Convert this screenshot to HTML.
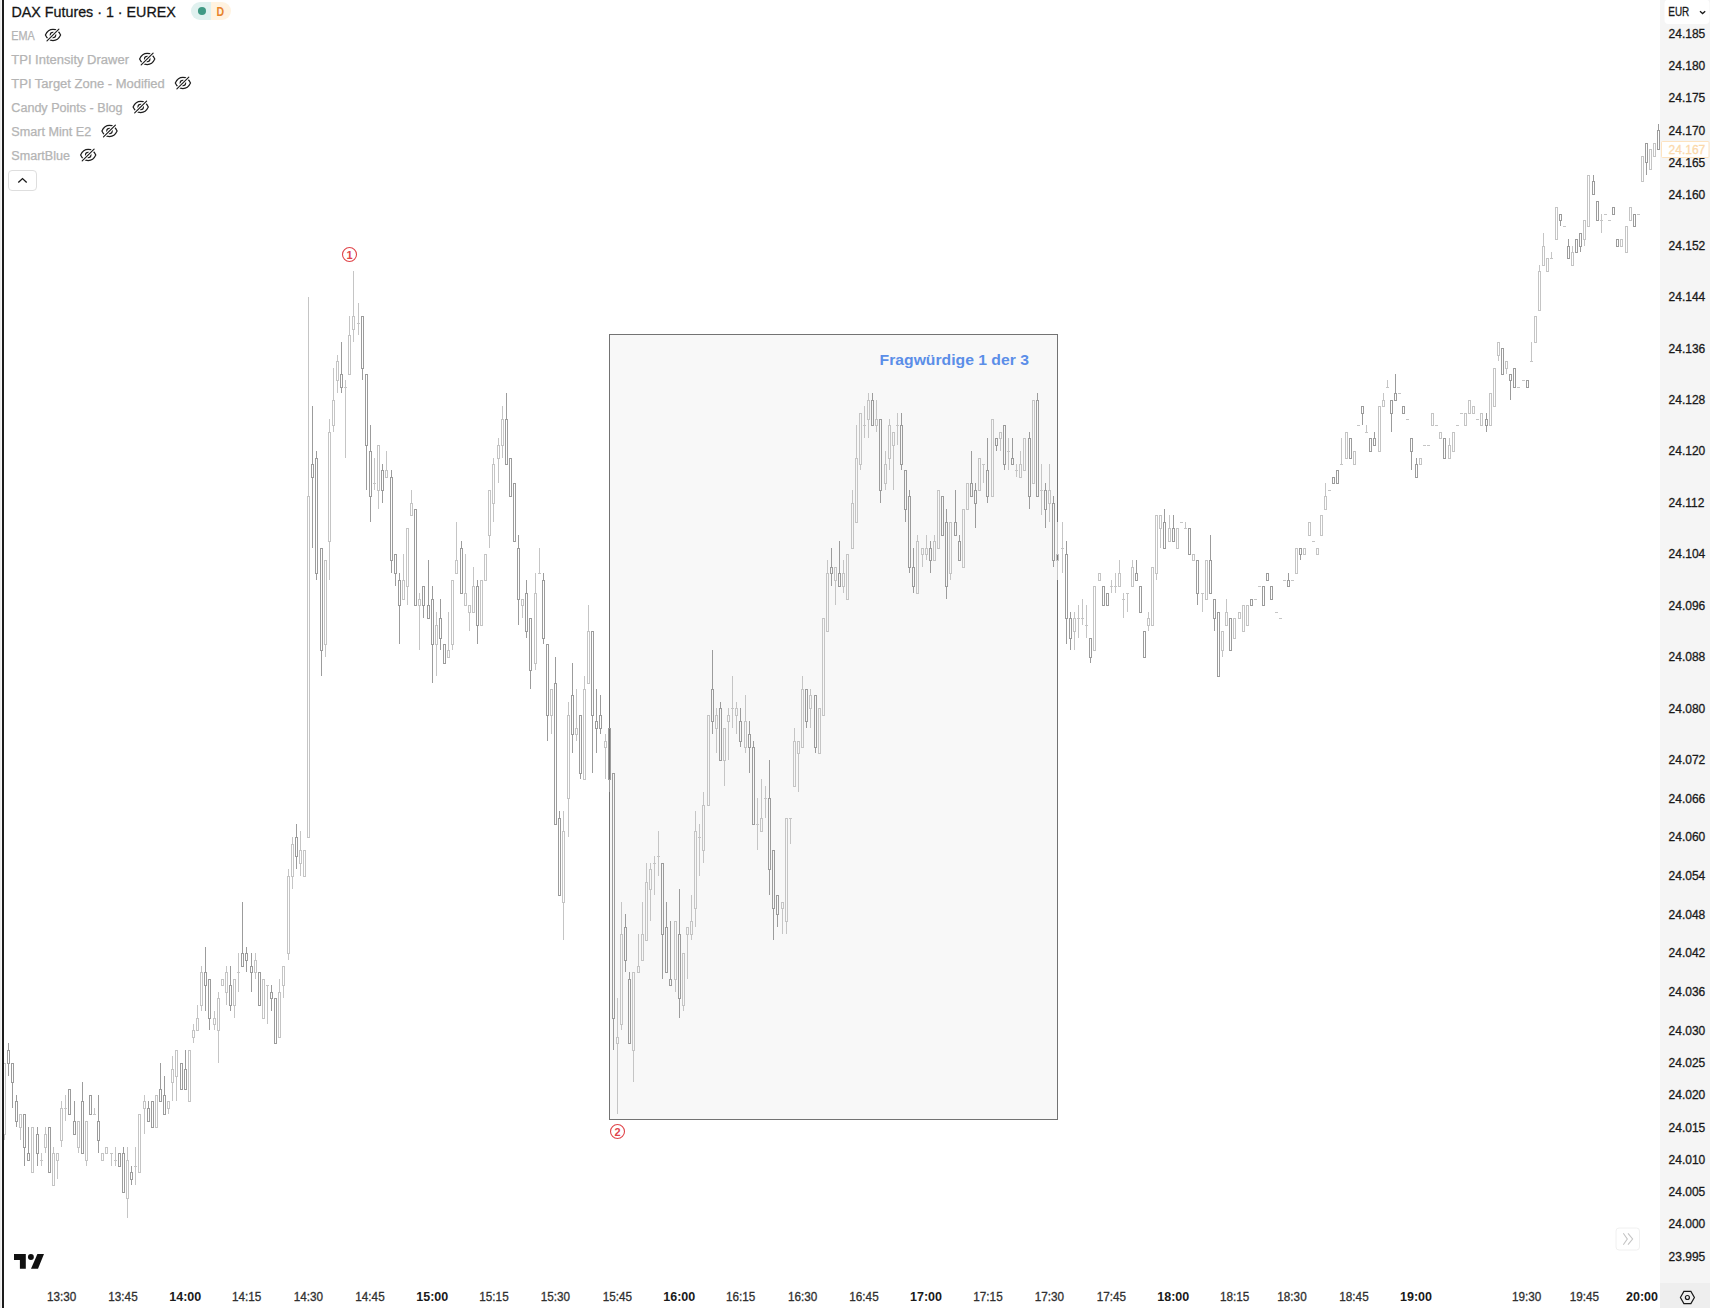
<!DOCTYPE html>
<html lang="de"><head><meta charset="utf-8"><title>DAX Futures · 1 · EUREX</title>
<style>html,body{margin:0;padding:0;background:#fff;overflow:hidden}svg{display:block}text{white-space:pre}</style></head>
<body>
<svg width="1710" height="1308" viewBox="0 0 1710 1308" font-family='"Liberation Sans", sans-serif' shape-rendering="auto">
<rect x="0" y="0" width="1710" height="1308" fill="#fff"/>
<rect x="609.5" y="334.5" width="448" height="785" fill="#f8f8f8" stroke="#737373" stroke-width="1"/>
<g shape-rendering="crispEdges">
<rect x="4.0" y="1135" width="1" height="5" fill="#c5c5c5"/>
<rect x="3.5" y="1063.5" width="2" height="71" fill="none" stroke="#c5c5c5" stroke-width="1"/>
<rect x="8.0" y="1043" width="1" height="7" fill="#9c9c9c"/>
<rect x="8.0" y="1064" width="1" height="12" fill="#9c9c9c"/>
<rect x="7.5" y="1050.5" width="2" height="13" fill="none" stroke="#9c9c9c" stroke-width="1"/>
<rect x="12.0" y="1083" width="1" height="25" fill="#9c9c9c"/>
<rect x="11.5" y="1063.5" width="2" height="19" fill="none" stroke="#9c9c9c" stroke-width="1"/>
<rect x="16.0" y="1095" width="1" height="6" fill="#9c9c9c"/>
<rect x="16.0" y="1122" width="1" height="5" fill="#9c9c9c"/>
<rect x="15.5" y="1101.5" width="2" height="20" fill="none" stroke="#9c9c9c" stroke-width="1"/>
<rect x="20.0" y="1128" width="1" height="12" fill="#c5c5c5"/>
<rect x="19.5" y="1114.5" width="2" height="13" fill="none" stroke="#c5c5c5" stroke-width="1"/>
<rect x="24.0" y="1148" width="1" height="18" fill="#9c9c9c"/>
<rect x="23.5" y="1114.5" width="2" height="33" fill="none" stroke="#9c9c9c" stroke-width="1"/>
<rect x="28.0" y="1127" width="1" height="26" fill="#9c9c9c"/>
<rect x="27.5" y="1153.5" width="2" height="7" fill="none" stroke="#9c9c9c" stroke-width="1"/>
<rect x="31.5" y="1127.5" width="2" height="45" fill="none" stroke="#c5c5c5" stroke-width="1"/>
<rect x="37.0" y="1127" width="1" height="7" fill="#9c9c9c"/>
<rect x="37.0" y="1154" width="1" height="12" fill="#9c9c9c"/>
<rect x="36.5" y="1134.5" width="2" height="19" fill="none" stroke="#9c9c9c" stroke-width="1"/>
<rect x="41.0" y="1153" width="1" height="13" fill="#c5c5c5"/>
<rect x="40.0" y="1160" width="3" height="1" fill="#c5c5c5"/>
<rect x="45.0" y="1127" width="1" height="7" fill="#c5c5c5"/>
<rect x="45.0" y="1148" width="1" height="5" fill="#c5c5c5"/>
<rect x="44.5" y="1134.5" width="2" height="13" fill="none" stroke="#c5c5c5" stroke-width="1"/>
<rect x="48.5" y="1127.5" width="2" height="45" fill="none" stroke="#9c9c9c" stroke-width="1"/>
<rect x="53.0" y="1147" width="1" height="6" fill="#c5c5c5"/>
<rect x="52.5" y="1153.5" width="2" height="32" fill="none" stroke="#c5c5c5" stroke-width="1"/>
<rect x="57.0" y="1161" width="1" height="18" fill="#c5c5c5"/>
<rect x="56.5" y="1153.5" width="2" height="7" fill="none" stroke="#c5c5c5" stroke-width="1"/>
<rect x="61.0" y="1101" width="1" height="7" fill="#c5c5c5"/>
<rect x="61.0" y="1141" width="1" height="6" fill="#c5c5c5"/>
<rect x="60.5" y="1108.5" width="2" height="32" fill="none" stroke="#c5c5c5" stroke-width="1"/>
<rect x="65.0" y="1095" width="1" height="26" fill="#c5c5c5"/>
<rect x="64.0" y="1108" width="3" height="1" fill="#c5c5c5"/>
<rect x="68.5" y="1089.5" width="2" height="25" fill="none" stroke="#9c9c9c" stroke-width="1"/>
<rect x="74.0" y="1101" width="1" height="20" fill="#9c9c9c"/>
<rect x="73.5" y="1121.5" width="2" height="13" fill="none" stroke="#9c9c9c" stroke-width="1"/>
<rect x="78.0" y="1148" width="1" height="5" fill="#c5c5c5"/>
<rect x="77.5" y="1121.5" width="2" height="26" fill="none" stroke="#c5c5c5" stroke-width="1"/>
<rect x="82.0" y="1082" width="1" height="19" fill="#9c9c9c"/>
<rect x="81.5" y="1101.5" width="2" height="52" fill="none" stroke="#9c9c9c" stroke-width="1"/>
<rect x="86.0" y="1161" width="1" height="5" fill="#c5c5c5"/>
<rect x="85.5" y="1121.5" width="2" height="39" fill="none" stroke="#c5c5c5" stroke-width="1"/>
<rect x="89.5" y="1095.5" width="2" height="19" fill="none" stroke="#9c9c9c" stroke-width="1"/>
<rect x="94.0" y="1108" width="1" height="7" fill="#c5c5c5"/>
<rect x="93.0" y="1114" width="3" height="1" fill="#c5c5c5"/>
<rect x="98.0" y="1095" width="1" height="26" fill="#9c9c9c"/>
<rect x="98.0" y="1141" width="1" height="12" fill="#9c9c9c"/>
<rect x="97.5" y="1121.5" width="2" height="19" fill="none" stroke="#9c9c9c" stroke-width="1"/>
<rect x="101.5" y="1153.5" width="2" height="7" fill="none" stroke="#c5c5c5" stroke-width="1"/>
<rect x="105.5" y="1147.5" width="2" height="6" fill="none" stroke="#c5c5c5" stroke-width="1"/>
<rect x="111.0" y="1153" width="1" height="13" fill="#c5c5c5"/>
<rect x="110.0" y="1153" width="3" height="1" fill="#c5c5c5"/>
<rect x="115.0" y="1147" width="1" height="19" fill="#c5c5c5"/>
<rect x="114.0" y="1160" width="3" height="1" fill="#c5c5c5"/>
<rect x="118.5" y="1153.5" width="2" height="13" fill="none" stroke="#9c9c9c" stroke-width="1"/>
<rect x="123.0" y="1147" width="1" height="6" fill="#9c9c9c"/>
<rect x="122.5" y="1153.5" width="2" height="39" fill="none" stroke="#9c9c9c" stroke-width="1"/>
<rect x="127.0" y="1147" width="1" height="13" fill="#c5c5c5"/>
<rect x="127.0" y="1199" width="1" height="19" fill="#c5c5c5"/>
<rect x="126.5" y="1160.5" width="2" height="38" fill="none" stroke="#c5c5c5" stroke-width="1"/>
<rect x="131.0" y="1166" width="1" height="6" fill="#9c9c9c"/>
<rect x="131.0" y="1180" width="1" height="5" fill="#9c9c9c"/>
<rect x="130.5" y="1172.5" width="2" height="7" fill="none" stroke="#9c9c9c" stroke-width="1"/>
<rect x="135.0" y="1147" width="1" height="38" fill="#c5c5c5"/>
<rect x="134.0" y="1166" width="3" height="1" fill="#c5c5c5"/>
<rect x="138.5" y="1114.5" width="2" height="58" fill="none" stroke="#c5c5c5" stroke-width="1"/>
<rect x="144.0" y="1095" width="1" height="6" fill="#c5c5c5"/>
<rect x="144.0" y="1109" width="1" height="25" fill="#c5c5c5"/>
<rect x="143.5" y="1101.5" width="2" height="7" fill="none" stroke="#c5c5c5" stroke-width="1"/>
<rect x="148.0" y="1101" width="1" height="7" fill="#9c9c9c"/>
<rect x="147.5" y="1108.5" width="2" height="13" fill="none" stroke="#9c9c9c" stroke-width="1"/>
<rect x="151.5" y="1101.5" width="2" height="26" fill="none" stroke="#9c9c9c" stroke-width="1"/>
<rect x="155.5" y="1095.5" width="2" height="32" fill="none" stroke="#c5c5c5" stroke-width="1"/>
<rect x="160.0" y="1063" width="1" height="26" fill="#9c9c9c"/>
<rect x="159.5" y="1089.5" width="2" height="12" fill="none" stroke="#9c9c9c" stroke-width="1"/>
<rect x="164.0" y="1076" width="1" height="19" fill="#9c9c9c"/>
<rect x="163.5" y="1095.5" width="2" height="19" fill="none" stroke="#9c9c9c" stroke-width="1"/>
<rect x="168.0" y="1109" width="1" height="5" fill="#c5c5c5"/>
<rect x="167.5" y="1101.5" width="2" height="7" fill="none" stroke="#c5c5c5" stroke-width="1"/>
<rect x="172.0" y="1056" width="1" height="13" fill="#c5c5c5"/>
<rect x="172.0" y="1083" width="1" height="18" fill="#c5c5c5"/>
<rect x="171.5" y="1069.5" width="2" height="13" fill="none" stroke="#c5c5c5" stroke-width="1"/>
<rect x="176.0" y="1077" width="1" height="24" fill="#c5c5c5"/>
<rect x="175.5" y="1050.5" width="2" height="26" fill="none" stroke="#c5c5c5" stroke-width="1"/>
<rect x="180.5" y="1063.5" width="2" height="26" fill="none" stroke="#9c9c9c" stroke-width="1"/>
<rect x="185.0" y="1050" width="1" height="19" fill="#9c9c9c"/>
<rect x="184.5" y="1069.5" width="2" height="20" fill="none" stroke="#9c9c9c" stroke-width="1"/>
<rect x="188.5" y="1050.5" width="2" height="51" fill="none" stroke="#c5c5c5" stroke-width="1"/>
<rect x="193.0" y="1024" width="1" height="6" fill="#c5c5c5"/>
<rect x="193.0" y="1038" width="1" height="5" fill="#c5c5c5"/>
<rect x="192.5" y="1030.5" width="2" height="7" fill="none" stroke="#c5c5c5" stroke-width="1"/>
<rect x="197.0" y="1005" width="1" height="13" fill="#c5c5c5"/>
<rect x="196.5" y="1018.5" width="2" height="12" fill="none" stroke="#c5c5c5" stroke-width="1"/>
<rect x="201.0" y="966" width="1" height="6" fill="#c5c5c5"/>
<rect x="201.0" y="1006" width="1" height="5" fill="#c5c5c5"/>
<rect x="200.5" y="972.5" width="2" height="33" fill="none" stroke="#c5c5c5" stroke-width="1"/>
<rect x="205.0" y="947" width="1" height="25" fill="#9c9c9c"/>
<rect x="205.0" y="986" width="1" height="25" fill="#9c9c9c"/>
<rect x="204.5" y="972.5" width="2" height="13" fill="none" stroke="#9c9c9c" stroke-width="1"/>
<rect x="209.0" y="1019" width="1" height="11" fill="#9c9c9c"/>
<rect x="208.5" y="979.5" width="2" height="39" fill="none" stroke="#9c9c9c" stroke-width="1"/>
<rect x="214.0" y="1011" width="1" height="7" fill="#c5c5c5"/>
<rect x="214.0" y="1025" width="1" height="5" fill="#c5c5c5"/>
<rect x="213.5" y="1018.5" width="2" height="6" fill="none" stroke="#c5c5c5" stroke-width="1"/>
<rect x="218.0" y="992" width="1" height="6" fill="#c5c5c5"/>
<rect x="218.0" y="1031" width="1" height="32" fill="#c5c5c5"/>
<rect x="217.5" y="998.5" width="2" height="32" fill="none" stroke="#c5c5c5" stroke-width="1"/>
<rect x="221.5" y="979.5" width="2" height="6" fill="none" stroke="#c5c5c5" stroke-width="1"/>
<rect x="226.0" y="966" width="1" height="6" fill="#c5c5c5"/>
<rect x="226.0" y="993" width="1" height="12" fill="#c5c5c5"/>
<rect x="225.5" y="972.5" width="2" height="20" fill="none" stroke="#c5c5c5" stroke-width="1"/>
<rect x="230.0" y="966" width="1" height="19" fill="#9c9c9c"/>
<rect x="230.0" y="1006" width="1" height="5" fill="#9c9c9c"/>
<rect x="229.5" y="985.5" width="2" height="20" fill="none" stroke="#9c9c9c" stroke-width="1"/>
<rect x="234.0" y="1006" width="1" height="12" fill="#c5c5c5"/>
<rect x="233.5" y="979.5" width="2" height="26" fill="none" stroke="#c5c5c5" stroke-width="1"/>
<rect x="238.0" y="953" width="1" height="39" fill="#c5c5c5"/>
<rect x="237.0" y="972" width="3" height="1" fill="#c5c5c5"/>
<rect x="242.0" y="902" width="1" height="51" fill="#9c9c9c"/>
<rect x="241.5" y="953.5" width="2" height="13" fill="none" stroke="#9c9c9c" stroke-width="1"/>
<rect x="246.0" y="947" width="1" height="6" fill="#9c9c9c"/>
<rect x="246.0" y="961" width="1" height="11" fill="#9c9c9c"/>
<rect x="245.5" y="953.5" width="2" height="7" fill="none" stroke="#9c9c9c" stroke-width="1"/>
<rect x="251.0" y="953" width="1" height="13" fill="#9c9c9c"/>
<rect x="251.0" y="973" width="1" height="19" fill="#9c9c9c"/>
<rect x="250.5" y="966.5" width="2" height="6" fill="none" stroke="#9c9c9c" stroke-width="1"/>
<rect x="255.0" y="953" width="1" height="7" fill="#c5c5c5"/>
<rect x="255.0" y="973" width="1" height="6" fill="#c5c5c5"/>
<rect x="254.5" y="960.5" width="2" height="12" fill="none" stroke="#c5c5c5" stroke-width="1"/>
<rect x="258.5" y="972.5" width="2" height="33" fill="none" stroke="#9c9c9c" stroke-width="1"/>
<rect x="262.5" y="979.5" width="2" height="39" fill="none" stroke="#c5c5c5" stroke-width="1"/>
<rect x="267.0" y="985" width="1" height="39" fill="#c5c5c5"/>
<rect x="266.0" y="985" width="3" height="1" fill="#c5c5c5"/>
<rect x="271.0" y="985" width="1" height="7" fill="#9c9c9c"/>
<rect x="271.0" y="999" width="1" height="12" fill="#9c9c9c"/>
<rect x="270.5" y="992.5" width="2" height="6" fill="none" stroke="#9c9c9c" stroke-width="1"/>
<rect x="274.5" y="998.5" width="2" height="45" fill="none" stroke="#9c9c9c" stroke-width="1"/>
<rect x="279.0" y="979" width="1" height="13" fill="#c5c5c5"/>
<rect x="278.5" y="992.5" width="2" height="45" fill="none" stroke="#c5c5c5" stroke-width="1"/>
<rect x="283.0" y="986" width="1" height="12" fill="#c5c5c5"/>
<rect x="282.5" y="966.5" width="2" height="19" fill="none" stroke="#c5c5c5" stroke-width="1"/>
<rect x="288.0" y="869" width="1" height="7" fill="#c5c5c5"/>
<rect x="288.0" y="954" width="1" height="6" fill="#c5c5c5"/>
<rect x="287.5" y="876.5" width="2" height="77" fill="none" stroke="#c5c5c5" stroke-width="1"/>
<rect x="292.0" y="837" width="1" height="7" fill="#c5c5c5"/>
<rect x="292.0" y="877" width="1" height="12" fill="#c5c5c5"/>
<rect x="291.5" y="844.5" width="2" height="32" fill="none" stroke="#c5c5c5" stroke-width="1"/>
<rect x="296.0" y="824" width="1" height="13" fill="#9c9c9c"/>
<rect x="296.0" y="857" width="1" height="12" fill="#9c9c9c"/>
<rect x="295.5" y="837.5" width="2" height="19" fill="none" stroke="#9c9c9c" stroke-width="1"/>
<rect x="300.0" y="831" width="1" height="19" fill="#c5c5c5"/>
<rect x="300.0" y="864" width="1" height="12" fill="#c5c5c5"/>
<rect x="299.5" y="850.5" width="2" height="13" fill="none" stroke="#c5c5c5" stroke-width="1"/>
<rect x="303.5" y="850.5" width="2" height="26" fill="none" stroke="#c5c5c5" stroke-width="1"/>
<rect x="308.0" y="297" width="1" height="199" fill="#c5c5c5"/>
<rect x="307.5" y="496.5" width="2" height="341" fill="none" stroke="#c5c5c5" stroke-width="1"/>
<rect x="312.0" y="406" width="1" height="58" fill="#9c9c9c"/>
<rect x="312.0" y="478" width="1" height="70" fill="#9c9c9c"/>
<rect x="311.5" y="464.5" width="2" height="13" fill="none" stroke="#9c9c9c" stroke-width="1"/>
<rect x="316.0" y="451" width="1" height="7" fill="#9c9c9c"/>
<rect x="316.0" y="574" width="1" height="6" fill="#9c9c9c"/>
<rect x="315.5" y="458.5" width="2" height="115" fill="none" stroke="#9c9c9c" stroke-width="1"/>
<rect x="321.0" y="651" width="1" height="25" fill="#9c9c9c"/>
<rect x="320.5" y="548.5" width="2" height="102" fill="none" stroke="#9c9c9c" stroke-width="1"/>
<rect x="325.0" y="645" width="1" height="12" fill="#c5c5c5"/>
<rect x="324.5" y="560.5" width="2" height="84" fill="none" stroke="#c5c5c5" stroke-width="1"/>
<rect x="329.0" y="419" width="1" height="13" fill="#c5c5c5"/>
<rect x="329.0" y="542" width="1" height="38" fill="#c5c5c5"/>
<rect x="328.5" y="432.5" width="2" height="109" fill="none" stroke="#c5c5c5" stroke-width="1"/>
<rect x="333.0" y="368" width="1" height="32" fill="#c5c5c5"/>
<rect x="333.0" y="426" width="1" height="6" fill="#c5c5c5"/>
<rect x="332.5" y="400.5" width="2" height="25" fill="none" stroke="#c5c5c5" stroke-width="1"/>
<rect x="337.0" y="355" width="1" height="6" fill="#c5c5c5"/>
<rect x="337.0" y="381" width="1" height="12" fill="#c5c5c5"/>
<rect x="336.5" y="361.5" width="2" height="19" fill="none" stroke="#c5c5c5" stroke-width="1"/>
<rect x="341.0" y="342" width="1" height="32" fill="#9c9c9c"/>
<rect x="341.0" y="388" width="1" height="5" fill="#9c9c9c"/>
<rect x="340.5" y="374.5" width="2" height="13" fill="none" stroke="#9c9c9c" stroke-width="1"/>
<rect x="345.0" y="380" width="1" height="78" fill="#c5c5c5"/>
<rect x="344.0" y="387" width="3" height="1" fill="#c5c5c5"/>
<rect x="349.0" y="316" width="1" height="19" fill="#c5c5c5"/>
<rect x="348.5" y="335.5" width="2" height="39" fill="none" stroke="#c5c5c5" stroke-width="1"/>
<rect x="353.0" y="271" width="1" height="45" fill="#c5c5c5"/>
<rect x="353.0" y="330" width="1" height="12" fill="#c5c5c5"/>
<rect x="352.5" y="316.5" width="2" height="13" fill="none" stroke="#c5c5c5" stroke-width="1"/>
<rect x="358.0" y="303" width="1" height="32" fill="#c5c5c5"/>
<rect x="357.0" y="323" width="3" height="1" fill="#c5c5c5"/>
<rect x="362.0" y="369" width="1" height="11" fill="#9c9c9c"/>
<rect x="361.5" y="316.5" width="2" height="52" fill="none" stroke="#9c9c9c" stroke-width="1"/>
<rect x="366.0" y="446" width="1" height="44" fill="#9c9c9c"/>
<rect x="365.5" y="374.5" width="2" height="71" fill="none" stroke="#9c9c9c" stroke-width="1"/>
<rect x="370.0" y="425" width="1" height="26" fill="#9c9c9c"/>
<rect x="370.0" y="497" width="1" height="25" fill="#9c9c9c"/>
<rect x="369.5" y="451.5" width="2" height="45" fill="none" stroke="#9c9c9c" stroke-width="1"/>
<rect x="374.0" y="458" width="1" height="32" fill="#c5c5c5"/>
<rect x="373.0" y="483" width="3" height="1" fill="#c5c5c5"/>
<rect x="378.0" y="491" width="1" height="18" fill="#c5c5c5"/>
<rect x="377.5" y="445.5" width="2" height="45" fill="none" stroke="#c5c5c5" stroke-width="1"/>
<rect x="382.0" y="464" width="1" height="6" fill="#9c9c9c"/>
<rect x="382.0" y="491" width="1" height="12" fill="#9c9c9c"/>
<rect x="381.5" y="470.5" width="2" height="20" fill="none" stroke="#9c9c9c" stroke-width="1"/>
<rect x="386.0" y="451" width="1" height="19" fill="#c5c5c5"/>
<rect x="385.5" y="470.5" width="2" height="7" fill="none" stroke="#c5c5c5" stroke-width="1"/>
<rect x="391.0" y="470" width="1" height="7" fill="#9c9c9c"/>
<rect x="391.0" y="561" width="1" height="12" fill="#9c9c9c"/>
<rect x="390.5" y="477.5" width="2" height="83" fill="none" stroke="#9c9c9c" stroke-width="1"/>
<rect x="395.0" y="574" width="1" height="12" fill="#9c9c9c"/>
<rect x="394.5" y="554.5" width="2" height="19" fill="none" stroke="#9c9c9c" stroke-width="1"/>
<rect x="399.0" y="573" width="1" height="7" fill="#9c9c9c"/>
<rect x="399.0" y="606" width="1" height="38" fill="#9c9c9c"/>
<rect x="398.5" y="580.5" width="2" height="25" fill="none" stroke="#9c9c9c" stroke-width="1"/>
<rect x="403.0" y="554" width="1" height="26" fill="#c5c5c5"/>
<rect x="402.5" y="580.5" width="2" height="19" fill="none" stroke="#c5c5c5" stroke-width="1"/>
<rect x="407.0" y="587" width="1" height="18" fill="#c5c5c5"/>
<rect x="406.5" y="528.5" width="2" height="58" fill="none" stroke="#c5c5c5" stroke-width="1"/>
<rect x="411.0" y="490" width="1" height="13" fill="#c5c5c5"/>
<rect x="410.5" y="503.5" width="2" height="12" fill="none" stroke="#c5c5c5" stroke-width="1"/>
<rect x="414.5" y="509.5" width="2" height="96" fill="none" stroke="#9c9c9c" stroke-width="1"/>
<rect x="419.0" y="593" width="1" height="6" fill="#c5c5c5"/>
<rect x="419.0" y="606" width="1" height="44" fill="#c5c5c5"/>
<rect x="418.5" y="599.5" width="2" height="6" fill="none" stroke="#c5c5c5" stroke-width="1"/>
<rect x="423.0" y="606" width="1" height="12" fill="#9c9c9c"/>
<rect x="422.5" y="586.5" width="2" height="19" fill="none" stroke="#9c9c9c" stroke-width="1"/>
<rect x="428.0" y="560" width="1" height="45" fill="#9c9c9c"/>
<rect x="427.5" y="605.5" width="2" height="13" fill="none" stroke="#9c9c9c" stroke-width="1"/>
<rect x="432.0" y="586" width="1" height="13" fill="#9c9c9c"/>
<rect x="432.0" y="645" width="1" height="38" fill="#9c9c9c"/>
<rect x="431.5" y="599.5" width="2" height="45" fill="none" stroke="#9c9c9c" stroke-width="1"/>
<rect x="436.0" y="612" width="1" height="13" fill="#c5c5c5"/>
<rect x="436.0" y="645" width="1" height="31" fill="#c5c5c5"/>
<rect x="435.5" y="625.5" width="2" height="19" fill="none" stroke="#c5c5c5" stroke-width="1"/>
<rect x="440.0" y="599" width="1" height="19" fill="#9c9c9c"/>
<rect x="440.0" y="639" width="1" height="11" fill="#9c9c9c"/>
<rect x="439.5" y="618.5" width="2" height="20" fill="none" stroke="#9c9c9c" stroke-width="1"/>
<rect x="443.5" y="644.5" width="2" height="19" fill="none" stroke="#9c9c9c" stroke-width="1"/>
<rect x="448.0" y="612" width="1" height="38" fill="#c5c5c5"/>
<rect x="447.5" y="650.5" width="2" height="7" fill="none" stroke="#c5c5c5" stroke-width="1"/>
<rect x="452.0" y="645" width="1" height="5" fill="#c5c5c5"/>
<rect x="451.5" y="580.5" width="2" height="64" fill="none" stroke="#c5c5c5" stroke-width="1"/>
<rect x="456.0" y="522" width="1" height="38" fill="#c5c5c5"/>
<rect x="455.5" y="560.5" width="2" height="13" fill="none" stroke="#c5c5c5" stroke-width="1"/>
<rect x="461.0" y="541" width="1" height="7" fill="#9c9c9c"/>
<rect x="460.5" y="548.5" width="2" height="45" fill="none" stroke="#9c9c9c" stroke-width="1"/>
<rect x="465.0" y="554" width="1" height="39" fill="#c5c5c5"/>
<rect x="464.5" y="593.5" width="2" height="12" fill="none" stroke="#c5c5c5" stroke-width="1"/>
<rect x="469.0" y="613" width="1" height="18" fill="#c5c5c5"/>
<rect x="468.5" y="605.5" width="2" height="7" fill="none" stroke="#c5c5c5" stroke-width="1"/>
<rect x="473.0" y="567" width="1" height="19" fill="#c5c5c5"/>
<rect x="472.5" y="586.5" width="2" height="26" fill="none" stroke="#c5c5c5" stroke-width="1"/>
<rect x="477.0" y="580" width="1" height="6" fill="#9c9c9c"/>
<rect x="477.0" y="626" width="1" height="18" fill="#9c9c9c"/>
<rect x="476.5" y="586.5" width="2" height="39" fill="none" stroke="#9c9c9c" stroke-width="1"/>
<rect x="480.5" y="580.5" width="2" height="45" fill="none" stroke="#c5c5c5" stroke-width="1"/>
<rect x="484.5" y="554.5" width="2" height="26" fill="none" stroke="#c5c5c5" stroke-width="1"/>
<rect x="489.0" y="536" width="1" height="12" fill="#c5c5c5"/>
<rect x="488.5" y="490.5" width="2" height="45" fill="none" stroke="#c5c5c5" stroke-width="1"/>
<rect x="493.0" y="458" width="1" height="6" fill="#c5c5c5"/>
<rect x="493.0" y="504" width="1" height="18" fill="#c5c5c5"/>
<rect x="492.5" y="464.5" width="2" height="39" fill="none" stroke="#c5c5c5" stroke-width="1"/>
<rect x="498.0" y="438" width="1" height="7" fill="#c5c5c5"/>
<rect x="498.0" y="459" width="1" height="24" fill="#c5c5c5"/>
<rect x="497.5" y="445.5" width="2" height="13" fill="none" stroke="#c5c5c5" stroke-width="1"/>
<rect x="502.0" y="406" width="1" height="13" fill="#c5c5c5"/>
<rect x="502.0" y="446" width="1" height="12" fill="#c5c5c5"/>
<rect x="501.5" y="419.5" width="2" height="26" fill="none" stroke="#c5c5c5" stroke-width="1"/>
<rect x="506.0" y="393" width="1" height="26" fill="#9c9c9c"/>
<rect x="505.5" y="419.5" width="2" height="45" fill="none" stroke="#9c9c9c" stroke-width="1"/>
<rect x="509.5" y="458.5" width="2" height="38" fill="none" stroke="#9c9c9c" stroke-width="1"/>
<rect x="513.5" y="483.5" width="2" height="58" fill="none" stroke="#9c9c9c" stroke-width="1"/>
<rect x="518.0" y="535" width="1" height="13" fill="#9c9c9c"/>
<rect x="518.0" y="600" width="1" height="25" fill="#9c9c9c"/>
<rect x="517.5" y="548.5" width="2" height="51" fill="none" stroke="#9c9c9c" stroke-width="1"/>
<rect x="522.0" y="606" width="1" height="12" fill="#c5c5c5"/>
<rect x="521.5" y="599.5" width="2" height="6" fill="none" stroke="#c5c5c5" stroke-width="1"/>
<rect x="526.0" y="580" width="1" height="13" fill="#9c9c9c"/>
<rect x="526.0" y="632" width="1" height="6" fill="#9c9c9c"/>
<rect x="525.5" y="593.5" width="2" height="38" fill="none" stroke="#9c9c9c" stroke-width="1"/>
<rect x="530.0" y="671" width="1" height="18" fill="#9c9c9c"/>
<rect x="529.5" y="618.5" width="2" height="52" fill="none" stroke="#9c9c9c" stroke-width="1"/>
<rect x="535.0" y="573" width="1" height="20" fill="#c5c5c5"/>
<rect x="535.0" y="664" width="1" height="6" fill="#c5c5c5"/>
<rect x="534.5" y="593.5" width="2" height="70" fill="none" stroke="#c5c5c5" stroke-width="1"/>
<rect x="539.0" y="548" width="1" height="26" fill="#c5c5c5"/>
<rect x="538.0" y="573" width="3" height="1" fill="#c5c5c5"/>
<rect x="543.0" y="573" width="1" height="7" fill="#9c9c9c"/>
<rect x="543.0" y="639" width="1" height="5" fill="#9c9c9c"/>
<rect x="542.5" y="580.5" width="2" height="58" fill="none" stroke="#9c9c9c" stroke-width="1"/>
<rect x="547.0" y="716" width="1" height="25" fill="#9c9c9c"/>
<rect x="546.5" y="644.5" width="2" height="71" fill="none" stroke="#9c9c9c" stroke-width="1"/>
<rect x="551.0" y="716" width="1" height="18" fill="#c5c5c5"/>
<rect x="550.5" y="689.5" width="2" height="26" fill="none" stroke="#c5c5c5" stroke-width="1"/>
<rect x="555.0" y="657" width="1" height="26" fill="#9c9c9c"/>
<rect x="554.5" y="683.5" width="2" height="141" fill="none" stroke="#9c9c9c" stroke-width="1"/>
<rect x="559.0" y="811" width="1" height="7" fill="#9c9c9c"/>
<rect x="558.5" y="818.5" width="2" height="77" fill="none" stroke="#9c9c9c" stroke-width="1"/>
<rect x="563.0" y="811" width="1" height="20" fill="#c5c5c5"/>
<rect x="563.0" y="903" width="1" height="37" fill="#c5c5c5"/>
<rect x="562.5" y="831.5" width="2" height="71" fill="none" stroke="#c5c5c5" stroke-width="1"/>
<rect x="568.0" y="702" width="1" height="13" fill="#c5c5c5"/>
<rect x="568.0" y="799" width="1" height="38" fill="#c5c5c5"/>
<rect x="567.5" y="715.5" width="2" height="83" fill="none" stroke="#c5c5c5" stroke-width="1"/>
<rect x="572.0" y="663" width="1" height="32" fill="#9c9c9c"/>
<rect x="572.0" y="735" width="1" height="18" fill="#9c9c9c"/>
<rect x="571.5" y="695.5" width="2" height="39" fill="none" stroke="#9c9c9c" stroke-width="1"/>
<rect x="576.0" y="689" width="1" height="39" fill="#c5c5c5"/>
<rect x="576.0" y="735" width="1" height="6" fill="#c5c5c5"/>
<rect x="575.5" y="728.5" width="2" height="6" fill="none" stroke="#c5c5c5" stroke-width="1"/>
<rect x="580.0" y="774" width="1" height="5" fill="#9c9c9c"/>
<rect x="579.5" y="715.5" width="2" height="58" fill="none" stroke="#9c9c9c" stroke-width="1"/>
<rect x="584.0" y="676" width="1" height="13" fill="#c5c5c5"/>
<rect x="583.5" y="689.5" width="2" height="90" fill="none" stroke="#c5c5c5" stroke-width="1"/>
<rect x="588.0" y="605" width="1" height="26" fill="#c5c5c5"/>
<rect x="587.5" y="631.5" width="2" height="52" fill="none" stroke="#c5c5c5" stroke-width="1"/>
<rect x="592.0" y="716" width="1" height="57" fill="#9c9c9c"/>
<rect x="591.5" y="631.5" width="2" height="84" fill="none" stroke="#9c9c9c" stroke-width="1"/>
<rect x="596.0" y="689" width="1" height="32" fill="#9c9c9c"/>
<rect x="596.0" y="729" width="1" height="24" fill="#9c9c9c"/>
<rect x="595.5" y="721.5" width="2" height="7" fill="none" stroke="#9c9c9c" stroke-width="1"/>
<rect x="600.0" y="695" width="1" height="20" fill="#9c9c9c"/>
<rect x="600.0" y="729" width="1" height="5" fill="#9c9c9c"/>
<rect x="599.5" y="715.5" width="2" height="13" fill="none" stroke="#9c9c9c" stroke-width="1"/>
<rect x="605.0" y="734" width="1" height="7" fill="#c5c5c5"/>
<rect x="605.0" y="748" width="1" height="31" fill="#c5c5c5"/>
<rect x="604.5" y="741.5" width="2" height="6" fill="none" stroke="#c5c5c5" stroke-width="1"/>
<rect x="609.0" y="780" width="1" height="12" fill="#9c9c9c"/>
<rect x="608.5" y="728.5" width="2" height="51" fill="none" stroke="#9c9c9c" stroke-width="1"/>
<rect x="613.0" y="1019" width="1" height="31" fill="#9c9c9c"/>
<rect x="612.5" y="773.5" width="2" height="245" fill="none" stroke="#9c9c9c" stroke-width="1"/>
<rect x="617.0" y="998" width="1" height="39" fill="#c5c5c5"/>
<rect x="617.0" y="1044" width="1" height="70" fill="#c5c5c5"/>
<rect x="616.5" y="1037.5" width="2" height="6" fill="none" stroke="#c5c5c5" stroke-width="1"/>
<rect x="621.0" y="902" width="1" height="32" fill="#c5c5c5"/>
<rect x="621.0" y="1025" width="1" height="5" fill="#c5c5c5"/>
<rect x="620.5" y="934.5" width="2" height="90" fill="none" stroke="#c5c5c5" stroke-width="1"/>
<rect x="625.0" y="914" width="1" height="13" fill="#9c9c9c"/>
<rect x="625.0" y="961" width="1" height="11" fill="#9c9c9c"/>
<rect x="624.5" y="927.5" width="2" height="33" fill="none" stroke="#9c9c9c" stroke-width="1"/>
<rect x="629.0" y="972" width="1" height="7" fill="#9c9c9c"/>
<rect x="628.5" y="979.5" width="2" height="64" fill="none" stroke="#9c9c9c" stroke-width="1"/>
<rect x="633.0" y="1051" width="1" height="31" fill="#c5c5c5"/>
<rect x="632.5" y="972.5" width="2" height="78" fill="none" stroke="#c5c5c5" stroke-width="1"/>
<rect x="638.0" y="934" width="1" height="32" fill="#c5c5c5"/>
<rect x="637.5" y="966.5" width="2" height="6" fill="none" stroke="#c5c5c5" stroke-width="1"/>
<rect x="642.0" y="902" width="1" height="32" fill="#c5c5c5"/>
<rect x="641.5" y="934.5" width="2" height="26" fill="none" stroke="#c5c5c5" stroke-width="1"/>
<rect x="646.0" y="863" width="1" height="19" fill="#c5c5c5"/>
<rect x="645.5" y="882.5" width="2" height="58" fill="none" stroke="#c5c5c5" stroke-width="1"/>
<rect x="650.0" y="863" width="1" height="6" fill="#c5c5c5"/>
<rect x="650.0" y="890" width="1" height="31" fill="#c5c5c5"/>
<rect x="649.5" y="869.5" width="2" height="20" fill="none" stroke="#c5c5c5" stroke-width="1"/>
<rect x="654.0" y="856" width="1" height="39" fill="#c5c5c5"/>
<rect x="653.0" y="863" width="3" height="1" fill="#c5c5c5"/>
<rect x="658.0" y="831" width="1" height="45" fill="#c5c5c5"/>
<rect x="657.0" y="856" width="3" height="1" fill="#c5c5c5"/>
<rect x="662.0" y="935" width="1" height="44" fill="#9c9c9c"/>
<rect x="661.5" y="863.5" width="2" height="71" fill="none" stroke="#9c9c9c" stroke-width="1"/>
<rect x="666.0" y="902" width="1" height="25" fill="#9c9c9c"/>
<rect x="665.5" y="927.5" width="2" height="45" fill="none" stroke="#9c9c9c" stroke-width="1"/>
<rect x="670.0" y="921" width="1" height="58" fill="#9c9c9c"/>
<rect x="669.5" y="979.5" width="2" height="6" fill="none" stroke="#9c9c9c" stroke-width="1"/>
<rect x="675.0" y="980" width="1" height="12" fill="#c5c5c5"/>
<rect x="674.5" y="921.5" width="2" height="58" fill="none" stroke="#c5c5c5" stroke-width="1"/>
<rect x="679.0" y="889" width="1" height="45" fill="#9c9c9c"/>
<rect x="679.0" y="999" width="1" height="19" fill="#9c9c9c"/>
<rect x="678.5" y="934.5" width="2" height="64" fill="none" stroke="#9c9c9c" stroke-width="1"/>
<rect x="683.0" y="1006" width="1" height="5" fill="#c5c5c5"/>
<rect x="682.5" y="953.5" width="2" height="52" fill="none" stroke="#c5c5c5" stroke-width="1"/>
<rect x="687.0" y="935" width="1" height="44" fill="#c5c5c5"/>
<rect x="686.5" y="927.5" width="2" height="7" fill="none" stroke="#c5c5c5" stroke-width="1"/>
<rect x="691.0" y="895" width="1" height="26" fill="#c5c5c5"/>
<rect x="691.0" y="935" width="1" height="5" fill="#c5c5c5"/>
<rect x="690.5" y="921.5" width="2" height="13" fill="none" stroke="#c5c5c5" stroke-width="1"/>
<rect x="695.0" y="811" width="1" height="20" fill="#c5c5c5"/>
<rect x="695.0" y="909" width="1" height="18" fill="#c5c5c5"/>
<rect x="694.5" y="831.5" width="2" height="77" fill="none" stroke="#c5c5c5" stroke-width="1"/>
<rect x="699.0" y="824" width="1" height="52" fill="#c5c5c5"/>
<rect x="698.0" y="837" width="3" height="1" fill="#c5c5c5"/>
<rect x="703.0" y="792" width="1" height="13" fill="#c5c5c5"/>
<rect x="703.0" y="851" width="1" height="12" fill="#c5c5c5"/>
<rect x="702.5" y="805.5" width="2" height="45" fill="none" stroke="#c5c5c5" stroke-width="1"/>
<rect x="707.5" y="715.5" width="2" height="90" fill="none" stroke="#c5c5c5" stroke-width="1"/>
<rect x="712.0" y="650" width="1" height="39" fill="#9c9c9c"/>
<rect x="712.0" y="722" width="1" height="12" fill="#9c9c9c"/>
<rect x="711.5" y="689.5" width="2" height="32" fill="none" stroke="#9c9c9c" stroke-width="1"/>
<rect x="716.0" y="708" width="1" height="7" fill="#c5c5c5"/>
<rect x="716.0" y="729" width="1" height="24" fill="#c5c5c5"/>
<rect x="715.5" y="715.5" width="2" height="13" fill="none" stroke="#c5c5c5" stroke-width="1"/>
<rect x="720.0" y="702" width="1" height="6" fill="#9c9c9c"/>
<rect x="719.5" y="708.5" width="2" height="52" fill="none" stroke="#9c9c9c" stroke-width="1"/>
<rect x="724.0" y="761" width="1" height="25" fill="#c5c5c5"/>
<rect x="723.5" y="728.5" width="2" height="32" fill="none" stroke="#c5c5c5" stroke-width="1"/>
<rect x="728.0" y="708" width="1" height="7" fill="#c5c5c5"/>
<rect x="728.0" y="722" width="1" height="38" fill="#c5c5c5"/>
<rect x="727.5" y="715.5" width="2" height="6" fill="none" stroke="#c5c5c5" stroke-width="1"/>
<rect x="732.0" y="676" width="1" height="52" fill="#c5c5c5"/>
<rect x="731.0" y="708" width="3" height="1" fill="#c5c5c5"/>
<rect x="736.0" y="702" width="1" height="6" fill="#c5c5c5"/>
<rect x="736.0" y="716" width="1" height="18" fill="#c5c5c5"/>
<rect x="735.5" y="708.5" width="2" height="7" fill="none" stroke="#c5c5c5" stroke-width="1"/>
<rect x="740.0" y="708" width="1" height="13" fill="#9c9c9c"/>
<rect x="740.0" y="742" width="1" height="5" fill="#9c9c9c"/>
<rect x="739.5" y="721.5" width="2" height="20" fill="none" stroke="#9c9c9c" stroke-width="1"/>
<rect x="745.0" y="695" width="1" height="26" fill="#c5c5c5"/>
<rect x="745.0" y="748" width="1" height="5" fill="#c5c5c5"/>
<rect x="744.5" y="721.5" width="2" height="26" fill="none" stroke="#c5c5c5" stroke-width="1"/>
<rect x="749.0" y="721" width="1" height="13" fill="#9c9c9c"/>
<rect x="749.0" y="748" width="1" height="25" fill="#9c9c9c"/>
<rect x="748.5" y="734.5" width="2" height="13" fill="none" stroke="#9c9c9c" stroke-width="1"/>
<rect x="753.0" y="741" width="1" height="6" fill="#9c9c9c"/>
<rect x="752.5" y="747.5" width="2" height="77" fill="none" stroke="#9c9c9c" stroke-width="1"/>
<rect x="757.0" y="798" width="1" height="52" fill="#c5c5c5"/>
<rect x="756.0" y="824" width="3" height="1" fill="#c5c5c5"/>
<rect x="761.0" y="779" width="1" height="39" fill="#c5c5c5"/>
<rect x="760.5" y="818.5" width="2" height="13" fill="none" stroke="#c5c5c5" stroke-width="1"/>
<rect x="765.0" y="786" width="1" height="32" fill="#c5c5c5"/>
<rect x="764.0" y="798" width="3" height="1" fill="#c5c5c5"/>
<rect x="769.0" y="760" width="1" height="38" fill="#9c9c9c"/>
<rect x="769.0" y="870" width="1" height="25" fill="#9c9c9c"/>
<rect x="768.5" y="798.5" width="2" height="71" fill="none" stroke="#9c9c9c" stroke-width="1"/>
<rect x="773.0" y="909" width="1" height="31" fill="#9c9c9c"/>
<rect x="772.5" y="850.5" width="2" height="58" fill="none" stroke="#9c9c9c" stroke-width="1"/>
<rect x="777.0" y="915" width="1" height="12" fill="#9c9c9c"/>
<rect x="776.5" y="895.5" width="2" height="19" fill="none" stroke="#9c9c9c" stroke-width="1"/>
<rect x="782.0" y="909" width="1" height="25" fill="#c5c5c5"/>
<rect x="781.5" y="902.5" width="2" height="6" fill="none" stroke="#c5c5c5" stroke-width="1"/>
<rect x="786.0" y="922" width="1" height="12" fill="#c5c5c5"/>
<rect x="785.5" y="818.5" width="2" height="103" fill="none" stroke="#c5c5c5" stroke-width="1"/>
<rect x="790.0" y="818" width="1" height="26" fill="#c5c5c5"/>
<rect x="789.0" y="818" width="3" height="1" fill="#c5c5c5"/>
<rect x="794.0" y="728" width="1" height="13" fill="#c5c5c5"/>
<rect x="793.5" y="741.5" width="2" height="45" fill="none" stroke="#c5c5c5" stroke-width="1"/>
<rect x="798.0" y="754" width="1" height="38" fill="#c5c5c5"/>
<rect x="797.5" y="741.5" width="2" height="12" fill="none" stroke="#c5c5c5" stroke-width="1"/>
<rect x="802.0" y="676" width="1" height="13" fill="#c5c5c5"/>
<rect x="801.5" y="689.5" width="2" height="58" fill="none" stroke="#c5c5c5" stroke-width="1"/>
<rect x="806.0" y="722" width="1" height="6" fill="#9c9c9c"/>
<rect x="805.5" y="689.5" width="2" height="32" fill="none" stroke="#9c9c9c" stroke-width="1"/>
<rect x="810.0" y="689" width="1" height="6" fill="#c5c5c5"/>
<rect x="810.0" y="709" width="1" height="19" fill="#c5c5c5"/>
<rect x="809.5" y="695.5" width="2" height="13" fill="none" stroke="#c5c5c5" stroke-width="1"/>
<rect x="815.0" y="748" width="1" height="5" fill="#9c9c9c"/>
<rect x="814.5" y="695.5" width="2" height="52" fill="none" stroke="#9c9c9c" stroke-width="1"/>
<rect x="818.5" y="708.5" width="2" height="45" fill="none" stroke="#c5c5c5" stroke-width="1"/>
<rect x="822.5" y="618.5" width="2" height="97" fill="none" stroke="#c5c5c5" stroke-width="1"/>
<rect x="827.0" y="560" width="1" height="13" fill="#c5c5c5"/>
<rect x="826.5" y="573.5" width="2" height="58" fill="none" stroke="#c5c5c5" stroke-width="1"/>
<rect x="831.0" y="548" width="1" height="19" fill="#9c9c9c"/>
<rect x="831.0" y="574" width="1" height="12" fill="#9c9c9c"/>
<rect x="830.5" y="567.5" width="2" height="6" fill="none" stroke="#9c9c9c" stroke-width="1"/>
<rect x="835.0" y="581" width="1" height="24" fill="#c5c5c5"/>
<rect x="834.5" y="567.5" width="2" height="13" fill="none" stroke="#c5c5c5" stroke-width="1"/>
<rect x="839.0" y="541" width="1" height="32" fill="#9c9c9c"/>
<rect x="838.5" y="573.5" width="2" height="13" fill="none" stroke="#9c9c9c" stroke-width="1"/>
<rect x="843.0" y="560" width="1" height="13" fill="#c5c5c5"/>
<rect x="843.0" y="587" width="1" height="6" fill="#c5c5c5"/>
<rect x="842.5" y="573.5" width="2" height="13" fill="none" stroke="#c5c5c5" stroke-width="1"/>
<rect x="846.5" y="554.5" width="2" height="45" fill="none" stroke="#c5c5c5" stroke-width="1"/>
<rect x="852.0" y="490" width="1" height="13" fill="#c5c5c5"/>
<rect x="851.5" y="503.5" width="2" height="45" fill="none" stroke="#c5c5c5" stroke-width="1"/>
<rect x="856.0" y="425" width="1" height="33" fill="#c5c5c5"/>
<rect x="855.5" y="458.5" width="2" height="64" fill="none" stroke="#c5c5c5" stroke-width="1"/>
<rect x="860.0" y="465" width="1" height="5" fill="#c5c5c5"/>
<rect x="859.5" y="413.5" width="2" height="51" fill="none" stroke="#c5c5c5" stroke-width="1"/>
<rect x="864.0" y="406" width="1" height="32" fill="#c5c5c5"/>
<rect x="863.0" y="425" width="3" height="1" fill="#c5c5c5"/>
<rect x="868.0" y="393" width="1" height="7" fill="#c5c5c5"/>
<rect x="868.0" y="420" width="1" height="18" fill="#c5c5c5"/>
<rect x="867.5" y="400.5" width="2" height="19" fill="none" stroke="#c5c5c5" stroke-width="1"/>
<rect x="872.0" y="393" width="1" height="7" fill="#9c9c9c"/>
<rect x="871.5" y="400.5" width="2" height="25" fill="none" stroke="#9c9c9c" stroke-width="1"/>
<rect x="876.0" y="400" width="1" height="19" fill="#c5c5c5"/>
<rect x="876.0" y="426" width="1" height="6" fill="#c5c5c5"/>
<rect x="875.5" y="419.5" width="2" height="6" fill="none" stroke="#c5c5c5" stroke-width="1"/>
<rect x="880.0" y="491" width="1" height="12" fill="#9c9c9c"/>
<rect x="879.5" y="419.5" width="2" height="71" fill="none" stroke="#9c9c9c" stroke-width="1"/>
<rect x="885.0" y="451" width="1" height="13" fill="#c5c5c5"/>
<rect x="885.0" y="484" width="1" height="6" fill="#c5c5c5"/>
<rect x="884.5" y="464.5" width="2" height="19" fill="none" stroke="#c5c5c5" stroke-width="1"/>
<rect x="889.0" y="419" width="1" height="6" fill="#c5c5c5"/>
<rect x="889.0" y="459" width="1" height="11" fill="#c5c5c5"/>
<rect x="888.5" y="425.5" width="2" height="33" fill="none" stroke="#c5c5c5" stroke-width="1"/>
<rect x="893.0" y="446" width="1" height="44" fill="#c5c5c5"/>
<rect x="892.5" y="432.5" width="2" height="13" fill="none" stroke="#c5c5c5" stroke-width="1"/>
<rect x="897.0" y="413" width="1" height="32" fill="#c5c5c5"/>
<rect x="896.0" y="425" width="3" height="1" fill="#c5c5c5"/>
<rect x="901.0" y="413" width="1" height="12" fill="#9c9c9c"/>
<rect x="901.0" y="465" width="1" height="5" fill="#9c9c9c"/>
<rect x="900.5" y="425.5" width="2" height="39" fill="none" stroke="#9c9c9c" stroke-width="1"/>
<rect x="905.0" y="510" width="1" height="12" fill="#9c9c9c"/>
<rect x="904.5" y="470.5" width="2" height="39" fill="none" stroke="#9c9c9c" stroke-width="1"/>
<rect x="909.0" y="490" width="1" height="6" fill="#9c9c9c"/>
<rect x="909.0" y="568" width="1" height="5" fill="#9c9c9c"/>
<rect x="908.5" y="496.5" width="2" height="71" fill="none" stroke="#9c9c9c" stroke-width="1"/>
<rect x="913.0" y="548" width="1" height="19" fill="#9c9c9c"/>
<rect x="913.0" y="587" width="1" height="6" fill="#9c9c9c"/>
<rect x="912.5" y="567.5" width="2" height="19" fill="none" stroke="#9c9c9c" stroke-width="1"/>
<rect x="917.0" y="535" width="1" height="6" fill="#c5c5c5"/>
<rect x="916.5" y="541.5" width="2" height="52" fill="none" stroke="#c5c5c5" stroke-width="1"/>
<rect x="922.0" y="555" width="1" height="12" fill="#c5c5c5"/>
<rect x="921.5" y="548.5" width="2" height="6" fill="none" stroke="#c5c5c5" stroke-width="1"/>
<rect x="926.0" y="535" width="1" height="13" fill="#c5c5c5"/>
<rect x="926.0" y="555" width="1" height="5" fill="#c5c5c5"/>
<rect x="925.5" y="548.5" width="2" height="6" fill="none" stroke="#c5c5c5" stroke-width="1"/>
<rect x="930.0" y="541" width="1" height="7" fill="#9c9c9c"/>
<rect x="930.0" y="561" width="1" height="12" fill="#9c9c9c"/>
<rect x="929.5" y="548.5" width="2" height="12" fill="none" stroke="#9c9c9c" stroke-width="1"/>
<rect x="934.0" y="535" width="1" height="6" fill="#c5c5c5"/>
<rect x="933.5" y="541.5" width="2" height="19" fill="none" stroke="#c5c5c5" stroke-width="1"/>
<rect x="937.5" y="490.5" width="2" height="58" fill="none" stroke="#c5c5c5" stroke-width="1"/>
<rect x="941.5" y="496.5" width="2" height="39" fill="none" stroke="#9c9c9c" stroke-width="1"/>
<rect x="946.0" y="509" width="1" height="13" fill="#9c9c9c"/>
<rect x="946.0" y="587" width="1" height="12" fill="#9c9c9c"/>
<rect x="945.5" y="522.5" width="2" height="64" fill="none" stroke="#9c9c9c" stroke-width="1"/>
<rect x="950.0" y="574" width="1" height="6" fill="#c5c5c5"/>
<rect x="949.5" y="522.5" width="2" height="51" fill="none" stroke="#c5c5c5" stroke-width="1"/>
<rect x="955.0" y="490" width="1" height="32" fill="#9c9c9c"/>
<rect x="954.5" y="522.5" width="2" height="13" fill="none" stroke="#9c9c9c" stroke-width="1"/>
<rect x="959.0" y="535" width="1" height="6" fill="#9c9c9c"/>
<rect x="958.5" y="541.5" width="2" height="19" fill="none" stroke="#9c9c9c" stroke-width="1"/>
<rect x="962.5" y="509.5" width="2" height="58" fill="none" stroke="#c5c5c5" stroke-width="1"/>
<rect x="966.5" y="483.5" width="2" height="26" fill="none" stroke="#c5c5c5" stroke-width="1"/>
<rect x="971.0" y="451" width="1" height="32" fill="#9c9c9c"/>
<rect x="970.5" y="483.5" width="2" height="13" fill="none" stroke="#9c9c9c" stroke-width="1"/>
<rect x="975.0" y="483" width="1" height="7" fill="#9c9c9c"/>
<rect x="975.0" y="504" width="1" height="24" fill="#9c9c9c"/>
<rect x="974.5" y="490.5" width="2" height="13" fill="none" stroke="#9c9c9c" stroke-width="1"/>
<rect x="978.5" y="458.5" width="2" height="32" fill="none" stroke="#c5c5c5" stroke-width="1"/>
<rect x="983.0" y="464" width="1" height="19" fill="#c5c5c5"/>
<rect x="982.0" y="464" width="3" height="1" fill="#c5c5c5"/>
<rect x="987.0" y="438" width="1" height="32" fill="#9c9c9c"/>
<rect x="987.0" y="497" width="1" height="6" fill="#9c9c9c"/>
<rect x="986.5" y="470.5" width="2" height="26" fill="none" stroke="#9c9c9c" stroke-width="1"/>
<rect x="991.5" y="419.5" width="2" height="77" fill="none" stroke="#c5c5c5" stroke-width="1"/>
<rect x="996.0" y="446" width="1" height="5" fill="#9c9c9c"/>
<rect x="995.5" y="438.5" width="2" height="7" fill="none" stroke="#9c9c9c" stroke-width="1"/>
<rect x="1000.0" y="439" width="1" height="12" fill="#c5c5c5"/>
<rect x="999.5" y="432.5" width="2" height="6" fill="none" stroke="#c5c5c5" stroke-width="1"/>
<rect x="1004.0" y="465" width="1" height="5" fill="#9c9c9c"/>
<rect x="1003.5" y="425.5" width="2" height="39" fill="none" stroke="#9c9c9c" stroke-width="1"/>
<rect x="1008.0" y="438" width="1" height="32" fill="#c5c5c5"/>
<rect x="1007.0" y="451" width="3" height="1" fill="#c5c5c5"/>
<rect x="1012.0" y="438" width="1" height="20" fill="#9c9c9c"/>
<rect x="1011.5" y="458.5" width="2" height="6" fill="none" stroke="#9c9c9c" stroke-width="1"/>
<rect x="1016.0" y="464" width="1" height="13" fill="#c5c5c5"/>
<rect x="1015.0" y="470" width="3" height="1" fill="#c5c5c5"/>
<rect x="1020.0" y="451" width="1" height="13" fill="#c5c5c5"/>
<rect x="1019.5" y="464.5" width="2" height="13" fill="none" stroke="#c5c5c5" stroke-width="1"/>
<rect x="1023.5" y="438.5" width="2" height="32" fill="none" stroke="#c5c5c5" stroke-width="1"/>
<rect x="1029.0" y="432" width="1" height="6" fill="#9c9c9c"/>
<rect x="1029.0" y="497" width="1" height="12" fill="#9c9c9c"/>
<rect x="1028.5" y="438.5" width="2" height="58" fill="none" stroke="#9c9c9c" stroke-width="1"/>
<rect x="1032.5" y="400.5" width="2" height="83" fill="none" stroke="#c5c5c5" stroke-width="1"/>
<rect x="1037.0" y="393" width="1" height="7" fill="#9c9c9c"/>
<rect x="1036.5" y="400.5" width="2" height="96" fill="none" stroke="#9c9c9c" stroke-width="1"/>
<rect x="1041.0" y="464" width="1" height="51" fill="#c5c5c5"/>
<rect x="1040.0" y="490" width="3" height="1" fill="#c5c5c5"/>
<rect x="1045.0" y="483" width="1" height="7" fill="#9c9c9c"/>
<rect x="1045.0" y="510" width="1" height="18" fill="#9c9c9c"/>
<rect x="1044.5" y="490.5" width="2" height="19" fill="none" stroke="#9c9c9c" stroke-width="1"/>
<rect x="1049.0" y="464" width="1" height="26" fill="#c5c5c5"/>
<rect x="1049.0" y="504" width="1" height="18" fill="#c5c5c5"/>
<rect x="1048.5" y="490.5" width="2" height="13" fill="none" stroke="#c5c5c5" stroke-width="1"/>
<rect x="1053.0" y="496" width="1" height="7" fill="#9c9c9c"/>
<rect x="1053.0" y="561" width="1" height="6" fill="#9c9c9c"/>
<rect x="1052.5" y="503.5" width="2" height="57" fill="none" stroke="#9c9c9c" stroke-width="1"/>
<rect x="1057.0" y="522" width="1" height="32" fill="#c5c5c5"/>
<rect x="1057.0" y="561" width="1" height="19" fill="#c5c5c5"/>
<rect x="1056.5" y="554.5" width="2" height="6" fill="none" stroke="#c5c5c5" stroke-width="1"/>
<rect x="1062.0" y="522" width="1" height="51" fill="#c5c5c5"/>
<rect x="1061.0" y="548" width="3" height="1" fill="#c5c5c5"/>
<rect x="1066.0" y="541" width="1" height="13" fill="#9c9c9c"/>
<rect x="1066.0" y="619" width="1" height="25" fill="#9c9c9c"/>
<rect x="1065.5" y="554.5" width="2" height="64" fill="none" stroke="#9c9c9c" stroke-width="1"/>
<rect x="1070.0" y="612" width="1" height="6" fill="#9c9c9c"/>
<rect x="1070.0" y="639" width="1" height="11" fill="#9c9c9c"/>
<rect x="1069.5" y="618.5" width="2" height="20" fill="none" stroke="#9c9c9c" stroke-width="1"/>
<rect x="1074.0" y="612" width="1" height="6" fill="#c5c5c5"/>
<rect x="1074.0" y="632" width="1" height="18" fill="#c5c5c5"/>
<rect x="1073.5" y="618.5" width="2" height="13" fill="none" stroke="#c5c5c5" stroke-width="1"/>
<rect x="1078.0" y="605" width="1" height="33" fill="#c5c5c5"/>
<rect x="1077.0" y="618" width="3" height="1" fill="#c5c5c5"/>
<rect x="1082.0" y="599" width="1" height="26" fill="#c5c5c5"/>
<rect x="1081.0" y="618" width="3" height="1" fill="#c5c5c5"/>
<rect x="1086.0" y="605" width="1" height="33" fill="#c5c5c5"/>
<rect x="1085.0" y="625" width="3" height="1" fill="#c5c5c5"/>
<rect x="1090.0" y="658" width="1" height="5" fill="#9c9c9c"/>
<rect x="1089.5" y="638.5" width="2" height="19" fill="none" stroke="#9c9c9c" stroke-width="1"/>
<rect x="1093.5" y="586.5" width="2" height="64" fill="none" stroke="#c5c5c5" stroke-width="1"/>
<rect x="1098.5" y="573.5" width="2" height="7" fill="none" stroke="#c5c5c5" stroke-width="1"/>
<rect x="1102.5" y="586.5" width="2" height="19" fill="none" stroke="#9c9c9c" stroke-width="1"/>
<rect x="1106.5" y="593.5" width="2" height="12" fill="none" stroke="#9c9c9c" stroke-width="1"/>
<rect x="1111.0" y="580" width="1" height="13" fill="#c5c5c5"/>
<rect x="1110.0" y="586" width="3" height="1" fill="#c5c5c5"/>
<rect x="1115.0" y="573" width="1" height="20" fill="#c5c5c5"/>
<rect x="1114.0" y="586" width="3" height="1" fill="#c5c5c5"/>
<rect x="1119.0" y="560" width="1" height="13" fill="#c5c5c5"/>
<rect x="1118.5" y="573.5" width="2" height="13" fill="none" stroke="#c5c5c5" stroke-width="1"/>
<rect x="1123.0" y="593" width="1" height="25" fill="#c5c5c5"/>
<rect x="1122.0" y="599" width="3" height="1" fill="#c5c5c5"/>
<rect x="1127.0" y="593" width="1" height="19" fill="#c5c5c5"/>
<rect x="1126.0" y="593" width="3" height="1" fill="#c5c5c5"/>
<rect x="1132.0" y="560" width="1" height="7" fill="#c5c5c5"/>
<rect x="1131.5" y="567.5" width="2" height="19" fill="none" stroke="#c5c5c5" stroke-width="1"/>
<rect x="1136.0" y="560" width="1" height="13" fill="#9c9c9c"/>
<rect x="1135.5" y="573.5" width="2" height="7" fill="none" stroke="#9c9c9c" stroke-width="1"/>
<rect x="1139.5" y="586.5" width="2" height="26" fill="none" stroke="#9c9c9c" stroke-width="1"/>
<rect x="1143.5" y="631.5" width="2" height="26" fill="none" stroke="#9c9c9c" stroke-width="1"/>
<rect x="1148.0" y="612" width="1" height="6" fill="#c5c5c5"/>
<rect x="1148.0" y="626" width="1" height="5" fill="#c5c5c5"/>
<rect x="1147.5" y="618.5" width="2" height="7" fill="none" stroke="#c5c5c5" stroke-width="1"/>
<rect x="1151.5" y="567.5" width="2" height="58" fill="none" stroke="#c5c5c5" stroke-width="1"/>
<rect x="1156.0" y="574" width="1" height="6" fill="#c5c5c5"/>
<rect x="1155.5" y="515.5" width="2" height="58" fill="none" stroke="#c5c5c5" stroke-width="1"/>
<rect x="1160.0" y="529" width="1" height="19" fill="#c5c5c5"/>
<rect x="1159.5" y="515.5" width="2" height="13" fill="none" stroke="#c5c5c5" stroke-width="1"/>
<rect x="1164.0" y="509" width="1" height="13" fill="#9c9c9c"/>
<rect x="1163.5" y="522.5" width="2" height="26" fill="none" stroke="#9c9c9c" stroke-width="1"/>
<rect x="1169.0" y="515" width="1" height="13" fill="#c5c5c5"/>
<rect x="1168.5" y="528.5" width="2" height="13" fill="none" stroke="#c5c5c5" stroke-width="1"/>
<rect x="1173.0" y="515" width="1" height="13" fill="#9c9c9c"/>
<rect x="1172.5" y="528.5" width="2" height="13" fill="none" stroke="#9c9c9c" stroke-width="1"/>
<rect x="1176.5" y="528.5" width="2" height="20" fill="none" stroke="#c5c5c5" stroke-width="1"/>
<rect x="1180.0" y="522" width="3" height="1" fill="#c5c5c5"/>
<rect x="1185.0" y="522" width="1" height="7" fill="#c5c5c5"/>
<rect x="1184.0" y="528" width="3" height="1" fill="#c5c5c5"/>
<rect x="1188.5" y="528.5" width="2" height="26" fill="none" stroke="#9c9c9c" stroke-width="1"/>
<rect x="1192.5" y="554.5" width="2" height="6" fill="none" stroke="#c5c5c5" stroke-width="1"/>
<rect x="1197.0" y="594" width="1" height="11" fill="#9c9c9c"/>
<rect x="1196.5" y="560.5" width="2" height="33" fill="none" stroke="#9c9c9c" stroke-width="1"/>
<rect x="1202.0" y="593" width="1" height="19" fill="#c5c5c5"/>
<rect x="1201.0" y="593" width="3" height="1" fill="#c5c5c5"/>
<rect x="1205.5" y="560.5" width="2" height="39" fill="none" stroke="#c5c5c5" stroke-width="1"/>
<rect x="1210.0" y="535" width="1" height="25" fill="#9c9c9c"/>
<rect x="1209.5" y="560.5" width="2" height="33" fill="none" stroke="#9c9c9c" stroke-width="1"/>
<rect x="1214.0" y="619" width="1" height="12" fill="#9c9c9c"/>
<rect x="1213.5" y="599.5" width="2" height="19" fill="none" stroke="#9c9c9c" stroke-width="1"/>
<rect x="1217.5" y="612.5" width="2" height="64" fill="none" stroke="#9c9c9c" stroke-width="1"/>
<rect x="1222.0" y="651" width="1" height="6" fill="#c5c5c5"/>
<rect x="1221.5" y="631.5" width="2" height="19" fill="none" stroke="#c5c5c5" stroke-width="1"/>
<rect x="1226.0" y="599" width="1" height="13" fill="#c5c5c5"/>
<rect x="1225.5" y="612.5" width="2" height="13" fill="none" stroke="#c5c5c5" stroke-width="1"/>
<rect x="1229.5" y="618.5" width="2" height="32" fill="none" stroke="#9c9c9c" stroke-width="1"/>
<rect x="1233.5" y="618.5" width="2" height="20" fill="none" stroke="#c5c5c5" stroke-width="1"/>
<rect x="1238.5" y="612.5" width="2" height="6" fill="none" stroke="#c5c5c5" stroke-width="1"/>
<rect x="1242.5" y="605.5" width="2" height="26" fill="none" stroke="#c5c5c5" stroke-width="1"/>
<rect x="1246.5" y="605.5" width="2" height="20" fill="none" stroke="#c5c5c5" stroke-width="1"/>
<rect x="1250.5" y="599.5" width="2" height="6" fill="none" stroke="#9c9c9c" stroke-width="1"/>
<rect x="1254.0" y="599" width="3" height="1" fill="#c5c5c5"/>
<rect x="1258.0" y="586" width="3" height="1" fill="#c5c5c5"/>
<rect x="1262.5" y="586.5" width="2" height="19" fill="none" stroke="#9c9c9c" stroke-width="1"/>
<rect x="1266.5" y="573.5" width="2" height="7" fill="none" stroke="#9c9c9c" stroke-width="1"/>
<rect x="1270.5" y="586.5" width="2" height="13" fill="none" stroke="#9c9c9c" stroke-width="1"/>
<rect x="1275.0" y="612" width="3" height="1" fill="#c5c5c5"/>
<rect x="1279.0" y="618" width="3" height="1" fill="#c5c5c5"/>
<rect x="1283.0" y="580" width="3" height="1" fill="#c5c5c5"/>
<rect x="1288.0" y="573" width="1" height="7" fill="#9c9c9c"/>
<rect x="1287.5" y="580.5" width="2" height="6" fill="none" stroke="#9c9c9c" stroke-width="1"/>
<rect x="1291.0" y="580" width="3" height="1" fill="#c5c5c5"/>
<rect x="1295.5" y="548.5" width="2" height="25" fill="none" stroke="#c5c5c5" stroke-width="1"/>
<rect x="1300.0" y="555" width="1" height="5" fill="#9c9c9c"/>
<rect x="1299.5" y="548.5" width="2" height="6" fill="none" stroke="#9c9c9c" stroke-width="1"/>
<rect x="1303.5" y="548.5" width="2" height="6" fill="none" stroke="#c5c5c5" stroke-width="1"/>
<rect x="1308.5" y="522.5" width="2" height="13" fill="none" stroke="#c5c5c5" stroke-width="1"/>
<rect x="1312.0" y="541" width="3" height="1" fill="#c5c5c5"/>
<rect x="1316.5" y="548.5" width="2" height="6" fill="none" stroke="#c5c5c5" stroke-width="1"/>
<rect x="1320.5" y="515.5" width="2" height="20" fill="none" stroke="#c5c5c5" stroke-width="1"/>
<rect x="1325.0" y="483" width="1" height="13" fill="#c5c5c5"/>
<rect x="1324.5" y="496.5" width="2" height="13" fill="none" stroke="#c5c5c5" stroke-width="1"/>
<rect x="1328.0" y="490" width="3" height="1" fill="#c5c5c5"/>
<rect x="1332.5" y="477.5" width="2" height="6" fill="none" stroke="#9c9c9c" stroke-width="1"/>
<rect x="1336.5" y="470.5" width="2" height="13" fill="none" stroke="#9c9c9c" stroke-width="1"/>
<rect x="1341.0" y="438" width="1" height="27" fill="#c5c5c5"/>
<rect x="1340.0" y="464" width="3" height="1" fill="#c5c5c5"/>
<rect x="1345.5" y="432.5" width="2" height="26" fill="none" stroke="#c5c5c5" stroke-width="1"/>
<rect x="1349.5" y="438.5" width="2" height="20" fill="none" stroke="#9c9c9c" stroke-width="1"/>
<rect x="1353.5" y="451.5" width="2" height="13" fill="none" stroke="#c5c5c5" stroke-width="1"/>
<rect x="1357.0" y="425" width="3" height="1" fill="#c5c5c5"/>
<rect x="1362.0" y="414" width="1" height="11" fill="#9c9c9c"/>
<rect x="1361.5" y="406.5" width="2" height="7" fill="none" stroke="#9c9c9c" stroke-width="1"/>
<rect x="1366.0" y="425" width="1" height="8" fill="#c5c5c5"/>
<rect x="1365.0" y="432" width="3" height="1" fill="#c5c5c5"/>
<rect x="1369.5" y="438.5" width="2" height="13" fill="none" stroke="#9c9c9c" stroke-width="1"/>
<rect x="1374.0" y="432" width="1" height="6" fill="#9c9c9c"/>
<rect x="1373.5" y="438.5" width="2" height="7" fill="none" stroke="#9c9c9c" stroke-width="1"/>
<rect x="1378.5" y="406.5" width="2" height="45" fill="none" stroke="#c5c5c5" stroke-width="1"/>
<rect x="1383.0" y="393" width="1" height="7" fill="#c5c5c5"/>
<rect x="1382.5" y="400.5" width="2" height="6" fill="none" stroke="#c5c5c5" stroke-width="1"/>
<rect x="1387.0" y="380" width="1" height="8" fill="#c5c5c5"/>
<rect x="1386.0" y="387" width="3" height="1" fill="#c5c5c5"/>
<rect x="1391.0" y="414" width="1" height="18" fill="#9c9c9c"/>
<rect x="1390.5" y="400.5" width="2" height="13" fill="none" stroke="#9c9c9c" stroke-width="1"/>
<rect x="1395.0" y="374" width="1" height="19" fill="#9c9c9c"/>
<rect x="1394.5" y="393.5" width="2" height="7" fill="none" stroke="#9c9c9c" stroke-width="1"/>
<rect x="1398.0" y="393" width="3" height="1" fill="#c5c5c5"/>
<rect x="1402.5" y="406.5" width="2" height="7" fill="none" stroke="#9c9c9c" stroke-width="1"/>
<rect x="1406.0" y="419" width="3" height="1" fill="#c5c5c5"/>
<rect x="1411.0" y="452" width="1" height="18" fill="#9c9c9c"/>
<rect x="1410.5" y="438.5" width="2" height="13" fill="none" stroke="#9c9c9c" stroke-width="1"/>
<rect x="1416.0" y="458" width="1" height="6" fill="#9c9c9c"/>
<rect x="1415.5" y="464.5" width="2" height="13" fill="none" stroke="#9c9c9c" stroke-width="1"/>
<rect x="1419.5" y="458.5" width="2" height="6" fill="none" stroke="#c5c5c5" stroke-width="1"/>
<rect x="1423.0" y="445" width="3" height="1" fill="#c5c5c5"/>
<rect x="1427.0" y="445" width="3" height="1" fill="#c5c5c5"/>
<rect x="1431.5" y="413.5" width="2" height="12" fill="none" stroke="#c5c5c5" stroke-width="1"/>
<rect x="1435.0" y="425" width="3" height="1" fill="#c5c5c5"/>
<rect x="1439.5" y="432.5" width="2" height="6" fill="none" stroke="#c5c5c5" stroke-width="1"/>
<rect x="1443.5" y="438.5" width="2" height="20" fill="none" stroke="#9c9c9c" stroke-width="1"/>
<rect x="1449.0" y="438" width="1" height="7" fill="#c5c5c5"/>
<rect x="1448.5" y="445.5" width="2" height="13" fill="none" stroke="#c5c5c5" stroke-width="1"/>
<rect x="1452.5" y="432.5" width="2" height="19" fill="none" stroke="#c5c5c5" stroke-width="1"/>
<rect x="1456.0" y="425" width="3" height="1" fill="#c5c5c5"/>
<rect x="1460.0" y="413" width="3" height="1" fill="#c5c5c5"/>
<rect x="1464.5" y="413.5" width="2" height="12" fill="none" stroke="#c5c5c5" stroke-width="1"/>
<rect x="1468.5" y="400.5" width="2" height="13" fill="none" stroke="#c5c5c5" stroke-width="1"/>
<rect x="1472.5" y="406.5" width="2" height="7" fill="none" stroke="#c5c5c5" stroke-width="1"/>
<rect x="1476.0" y="419" width="3" height="1" fill="#c5c5c5"/>
<rect x="1480.5" y="413.5" width="2" height="12" fill="none" stroke="#c5c5c5" stroke-width="1"/>
<rect x="1486.0" y="413" width="1" height="6" fill="#9c9c9c"/>
<rect x="1486.0" y="426" width="1" height="6" fill="#9c9c9c"/>
<rect x="1485.5" y="419.5" width="2" height="6" fill="none" stroke="#9c9c9c" stroke-width="1"/>
<rect x="1489.5" y="393.5" width="2" height="32" fill="none" stroke="#c5c5c5" stroke-width="1"/>
<rect x="1493.5" y="368.5" width="2" height="38" fill="none" stroke="#c5c5c5" stroke-width="1"/>
<rect x="1498.0" y="356" width="1" height="5" fill="#c5c5c5"/>
<rect x="1497.5" y="342.5" width="2" height="13" fill="none" stroke="#c5c5c5" stroke-width="1"/>
<rect x="1501.5" y="348.5" width="2" height="26" fill="none" stroke="#9c9c9c" stroke-width="1"/>
<rect x="1506.0" y="369" width="1" height="5" fill="#c5c5c5"/>
<rect x="1505.5" y="361.5" width="2" height="7" fill="none" stroke="#c5c5c5" stroke-width="1"/>
<rect x="1510.0" y="381" width="1" height="19" fill="#9c9c9c"/>
<rect x="1509.5" y="374.5" width="2" height="6" fill="none" stroke="#9c9c9c" stroke-width="1"/>
<rect x="1513.5" y="368.5" width="2" height="19" fill="none" stroke="#9c9c9c" stroke-width="1"/>
<rect x="1517.0" y="387" width="3" height="1" fill="#c5c5c5"/>
<rect x="1522.0" y="380" width="3" height="1" fill="#c5c5c5"/>
<rect x="1526.5" y="380.5" width="2" height="7" fill="none" stroke="#9c9c9c" stroke-width="1"/>
<rect x="1531.0" y="342" width="1" height="20" fill="#c5c5c5"/>
<rect x="1530.0" y="361" width="3" height="1" fill="#c5c5c5"/>
<rect x="1534.5" y="316.5" width="2" height="26" fill="none" stroke="#c5c5c5" stroke-width="1"/>
<rect x="1539.0" y="265" width="1" height="6" fill="#c5c5c5"/>
<rect x="1538.5" y="271.5" width="2" height="39" fill="none" stroke="#c5c5c5" stroke-width="1"/>
<rect x="1543.0" y="233" width="1" height="13" fill="#c5c5c5"/>
<rect x="1542.5" y="246.5" width="2" height="19" fill="none" stroke="#c5c5c5" stroke-width="1"/>
<rect x="1546.5" y="258.5" width="2" height="13" fill="none" stroke="#c5c5c5" stroke-width="1"/>
<rect x="1551.0" y="252" width="1" height="7" fill="#c5c5c5"/>
<rect x="1550.0" y="258" width="3" height="1" fill="#c5c5c5"/>
<rect x="1555.5" y="207.5" width="2" height="32" fill="none" stroke="#c5c5c5" stroke-width="1"/>
<rect x="1560.0" y="221" width="1" height="5" fill="#9c9c9c"/>
<rect x="1559.5" y="214.5" width="2" height="6" fill="none" stroke="#9c9c9c" stroke-width="1"/>
<rect x="1563.0" y="226" width="3" height="1" fill="#c5c5c5"/>
<rect x="1568.0" y="239" width="1" height="7" fill="#9c9c9c"/>
<rect x="1567.5" y="246.5" width="2" height="12" fill="none" stroke="#9c9c9c" stroke-width="1"/>
<rect x="1572.0" y="246" width="1" height="6" fill="#c5c5c5"/>
<rect x="1571.5" y="252.5" width="2" height="13" fill="none" stroke="#c5c5c5" stroke-width="1"/>
<rect x="1575.5" y="239.5" width="2" height="13" fill="none" stroke="#9c9c9c" stroke-width="1"/>
<rect x="1580.0" y="247" width="1" height="5" fill="#9c9c9c"/>
<rect x="1579.5" y="233.5" width="2" height="13" fill="none" stroke="#9c9c9c" stroke-width="1"/>
<rect x="1584.0" y="240" width="1" height="6" fill="#c5c5c5"/>
<rect x="1583.5" y="220.5" width="2" height="19" fill="none" stroke="#c5c5c5" stroke-width="1"/>
<rect x="1587.5" y="175.5" width="2" height="51" fill="none" stroke="#c5c5c5" stroke-width="1"/>
<rect x="1593.0" y="175" width="1" height="6" fill="#9c9c9c"/>
<rect x="1592.5" y="181.5" width="2" height="13" fill="none" stroke="#9c9c9c" stroke-width="1"/>
<rect x="1596.5" y="201.5" width="2" height="19" fill="none" stroke="#9c9c9c" stroke-width="1"/>
<rect x="1601.0" y="214" width="1" height="19" fill="#c5c5c5"/>
<rect x="1600.0" y="220" width="3" height="1" fill="#c5c5c5"/>
<rect x="1604.0" y="214" width="3" height="1" fill="#c5c5c5"/>
<rect x="1608.0" y="220" width="3" height="1" fill="#c5c5c5"/>
<rect x="1612.5" y="207.5" width="2" height="7" fill="none" stroke="#9c9c9c" stroke-width="1"/>
<rect x="1616.5" y="239.5" width="2" height="7" fill="none" stroke="#9c9c9c" stroke-width="1"/>
<rect x="1620.5" y="239.5" width="2" height="7" fill="none" stroke="#c5c5c5" stroke-width="1"/>
<rect x="1625.5" y="226.5" width="2" height="26" fill="none" stroke="#c5c5c5" stroke-width="1"/>
<rect x="1629.5" y="207.5" width="2" height="13" fill="none" stroke="#c5c5c5" stroke-width="1"/>
<rect x="1633.5" y="214.5" width="2" height="12" fill="none" stroke="#9c9c9c" stroke-width="1"/>
<rect x="1637.0" y="214" width="3" height="1" fill="#c5c5c5"/>
<rect x="1641.5" y="156.5" width="2" height="25" fill="none" stroke="#c5c5c5" stroke-width="1"/>
<rect x="1646.0" y="163" width="1" height="12" fill="#9c9c9c"/>
<rect x="1645.5" y="143.5" width="2" height="19" fill="none" stroke="#9c9c9c" stroke-width="1"/>
<rect x="1649.5" y="149.5" width="2" height="20" fill="none" stroke="#c5c5c5" stroke-width="1"/>
<rect x="1653.5" y="143.5" width="2" height="13" fill="none" stroke="#c5c5c5" stroke-width="1"/>
<rect x="1658.0" y="124" width="1" height="6" fill="#9c9c9c"/>
<rect x="1657.5" y="130.5" width="2" height="19" fill="none" stroke="#9c9c9c" stroke-width="1"/>
</g>
<rect x="0" y="0" width="1" height="1308" fill="#ebebeb"/><rect x="1" y="0" width="1" height="1308" fill="#f6f6f6"/>
<rect x="2" y="0" width="2" height="1308" fill="#1c1c1c"/>
<rect x="1660" y="0" width="50" height="1283" fill="#f5f5f5"/>
<rect x="1660" y="1283" width="50" height="25" fill="#eeeeee"/>
<rect x="1664.5" y="-0.5" width="45" height="24.5" rx="4" fill="#fff"/>
<text x="1668.3" y="15.8" font-size="12" fill="#1a1a1a" text-anchor="start" font-weight="normal" textLength="21" lengthAdjust="spacingAndGlyphs" stroke="#1a1a1a" stroke-width="0.3">EUR</text>
<path d="M1700 11.2 L1702.6 13.6 L1705.2 11.2" fill="none" stroke="#1a1a1a" stroke-width="1.3"/>
<text x="1668.6" y="38" font-size="12" fill="#1a1a1a" text-anchor="start" font-weight="normal" stroke="#1a1a1a" stroke-width="0.3">24.185</text>
<text x="1668.6" y="70" font-size="12" fill="#1a1a1a" text-anchor="start" font-weight="normal" stroke="#1a1a1a" stroke-width="0.3">24.180</text>
<text x="1668.6" y="102" font-size="12" fill="#1a1a1a" text-anchor="start" font-weight="normal" stroke="#1a1a1a" stroke-width="0.3">24.175</text>
<text x="1668.6" y="135" font-size="12" fill="#1a1a1a" text-anchor="start" font-weight="normal" stroke="#1a1a1a" stroke-width="0.3">24.170</text>
<text x="1668.6" y="167" font-size="12" fill="#1a1a1a" text-anchor="start" font-weight="normal" stroke="#1a1a1a" stroke-width="0.3">24.165</text>
<text x="1668.6" y="199" font-size="12" fill="#1a1a1a" text-anchor="start" font-weight="normal" stroke="#1a1a1a" stroke-width="0.3">24.160</text>
<text x="1668.6" y="250" font-size="12" fill="#1a1a1a" text-anchor="start" font-weight="normal" stroke="#1a1a1a" stroke-width="0.3">24.152</text>
<text x="1668.6" y="301" font-size="12" fill="#1a1a1a" text-anchor="start" font-weight="normal" stroke="#1a1a1a" stroke-width="0.3">24.144</text>
<text x="1668.6" y="353" font-size="12" fill="#1a1a1a" text-anchor="start" font-weight="normal" stroke="#1a1a1a" stroke-width="0.3">24.136</text>
<text x="1668.6" y="404" font-size="12" fill="#1a1a1a" text-anchor="start" font-weight="normal" stroke="#1a1a1a" stroke-width="0.3">24.128</text>
<text x="1668.6" y="455" font-size="12" fill="#1a1a1a" text-anchor="start" font-weight="normal" stroke="#1a1a1a" stroke-width="0.3">24.120</text>
<text x="1668.6" y="507" font-size="12" fill="#1a1a1a" text-anchor="start" font-weight="normal" stroke="#1a1a1a" stroke-width="0.3">24.112</text>
<text x="1668.6" y="558" font-size="12" fill="#1a1a1a" text-anchor="start" font-weight="normal" stroke="#1a1a1a" stroke-width="0.3">24.104</text>
<text x="1668.6" y="610" font-size="12" fill="#1a1a1a" text-anchor="start" font-weight="normal" stroke="#1a1a1a" stroke-width="0.3">24.096</text>
<text x="1668.6" y="661" font-size="12" fill="#1a1a1a" text-anchor="start" font-weight="normal" stroke="#1a1a1a" stroke-width="0.3">24.088</text>
<text x="1668.6" y="713" font-size="12" fill="#1a1a1a" text-anchor="start" font-weight="normal" stroke="#1a1a1a" stroke-width="0.3">24.080</text>
<text x="1668.6" y="764" font-size="12" fill="#1a1a1a" text-anchor="start" font-weight="normal" stroke="#1a1a1a" stroke-width="0.3">24.072</text>
<text x="1668.6" y="803" font-size="12" fill="#1a1a1a" text-anchor="start" font-weight="normal" stroke="#1a1a1a" stroke-width="0.3">24.066</text>
<text x="1668.6" y="841" font-size="12" fill="#1a1a1a" text-anchor="start" font-weight="normal" stroke="#1a1a1a" stroke-width="0.3">24.060</text>
<text x="1668.6" y="880" font-size="12" fill="#1a1a1a" text-anchor="start" font-weight="normal" stroke="#1a1a1a" stroke-width="0.3">24.054</text>
<text x="1668.6" y="919" font-size="12" fill="#1a1a1a" text-anchor="start" font-weight="normal" stroke="#1a1a1a" stroke-width="0.3">24.048</text>
<text x="1668.6" y="957" font-size="12" fill="#1a1a1a" text-anchor="start" font-weight="normal" stroke="#1a1a1a" stroke-width="0.3">24.042</text>
<text x="1668.6" y="996" font-size="12" fill="#1a1a1a" text-anchor="start" font-weight="normal" stroke="#1a1a1a" stroke-width="0.3">24.036</text>
<text x="1668.6" y="1035" font-size="12" fill="#1a1a1a" text-anchor="start" font-weight="normal" stroke="#1a1a1a" stroke-width="0.3">24.030</text>
<text x="1668.6" y="1067" font-size="12" fill="#1a1a1a" text-anchor="start" font-weight="normal" stroke="#1a1a1a" stroke-width="0.3">24.025</text>
<text x="1668.6" y="1099" font-size="12" fill="#1a1a1a" text-anchor="start" font-weight="normal" stroke="#1a1a1a" stroke-width="0.3">24.020</text>
<text x="1668.6" y="1132" font-size="12" fill="#1a1a1a" text-anchor="start" font-weight="normal" stroke="#1a1a1a" stroke-width="0.3">24.015</text>
<text x="1668.6" y="1164" font-size="12" fill="#1a1a1a" text-anchor="start" font-weight="normal" stroke="#1a1a1a" stroke-width="0.3">24.010</text>
<text x="1668.6" y="1196" font-size="12" fill="#1a1a1a" text-anchor="start" font-weight="normal" stroke="#1a1a1a" stroke-width="0.3">24.005</text>
<text x="1668.6" y="1228" font-size="12" fill="#1a1a1a" text-anchor="start" font-weight="normal" stroke="#1a1a1a" stroke-width="0.3">24.000</text>
<text x="1668.6" y="1261" font-size="12" fill="#1a1a1a" text-anchor="start" font-weight="normal" stroke="#1a1a1a" stroke-width="0.3">23.995</text>
<rect x="1661.5" y="141.5" width="47.5" height="16" fill="#fff" stroke="#fde3c0" stroke-width="1" rx="1"/>
<text x="1668.6" y="154" font-size="12" fill="#fbd9ab" text-anchor="start" font-weight="normal" stroke="#fbd9ab" stroke-width="0.3">24.167</text>
<text x="61.7" y="1300.8" font-size="12" fill="#303030" text-anchor="middle" font-weight="normal" textLength="29.3" lengthAdjust="spacingAndGlyphs" stroke="#303030" stroke-width="0.3">13:30</text>
<text x="123" y="1300.8" font-size="12" fill="#303030" text-anchor="middle" font-weight="normal" textLength="29.3" lengthAdjust="spacingAndGlyphs" stroke="#303030" stroke-width="0.3">13:45</text>
<text x="185.3" y="1300.8" font-size="12" fill="#1a1a1a" text-anchor="middle" font-weight="bold" textLength="32" lengthAdjust="spacingAndGlyphs">14:00</text>
<text x="246.7" y="1300.8" font-size="12" fill="#303030" text-anchor="middle" font-weight="normal" textLength="29.3" lengthAdjust="spacingAndGlyphs" stroke="#303030" stroke-width="0.3">14:15</text>
<text x="308.3" y="1300.8" font-size="12" fill="#303030" text-anchor="middle" font-weight="normal" textLength="29.3" lengthAdjust="spacingAndGlyphs" stroke="#303030" stroke-width="0.3">14:30</text>
<text x="370" y="1300.8" font-size="12" fill="#303030" text-anchor="middle" font-weight="normal" textLength="29.3" lengthAdjust="spacingAndGlyphs" stroke="#303030" stroke-width="0.3">14:45</text>
<text x="432.3" y="1300.8" font-size="12" fill="#1a1a1a" text-anchor="middle" font-weight="bold" textLength="32" lengthAdjust="spacingAndGlyphs">15:00</text>
<text x="494" y="1300.8" font-size="12" fill="#303030" text-anchor="middle" font-weight="normal" textLength="29.3" lengthAdjust="spacingAndGlyphs" stroke="#303030" stroke-width="0.3">15:15</text>
<text x="555.3" y="1300.8" font-size="12" fill="#303030" text-anchor="middle" font-weight="normal" textLength="29.3" lengthAdjust="spacingAndGlyphs" stroke="#303030" stroke-width="0.3">15:30</text>
<text x="617.3" y="1300.8" font-size="12" fill="#303030" text-anchor="middle" font-weight="normal" textLength="29.3" lengthAdjust="spacingAndGlyphs" stroke="#303030" stroke-width="0.3">15:45</text>
<text x="679.3" y="1300.8" font-size="12" fill="#1a1a1a" text-anchor="middle" font-weight="bold" textLength="32" lengthAdjust="spacingAndGlyphs">16:00</text>
<text x="740.7" y="1300.8" font-size="12" fill="#303030" text-anchor="middle" font-weight="normal" textLength="29.3" lengthAdjust="spacingAndGlyphs" stroke="#303030" stroke-width="0.3">16:15</text>
<text x="802.7" y="1300.8" font-size="12" fill="#303030" text-anchor="middle" font-weight="normal" textLength="29.3" lengthAdjust="spacingAndGlyphs" stroke="#303030" stroke-width="0.3">16:30</text>
<text x="864" y="1300.8" font-size="12" fill="#303030" text-anchor="middle" font-weight="normal" textLength="29.3" lengthAdjust="spacingAndGlyphs" stroke="#303030" stroke-width="0.3">16:45</text>
<text x="926" y="1300.8" font-size="12" fill="#1a1a1a" text-anchor="middle" font-weight="bold" textLength="32" lengthAdjust="spacingAndGlyphs">17:00</text>
<text x="988" y="1300.8" font-size="12" fill="#303030" text-anchor="middle" font-weight="normal" textLength="29.3" lengthAdjust="spacingAndGlyphs" stroke="#303030" stroke-width="0.3">17:15</text>
<text x="1049.3" y="1300.8" font-size="12" fill="#303030" text-anchor="middle" font-weight="normal" textLength="29.3" lengthAdjust="spacingAndGlyphs" stroke="#303030" stroke-width="0.3">17:30</text>
<text x="1111.3" y="1300.8" font-size="12" fill="#303030" text-anchor="middle" font-weight="normal" textLength="29.3" lengthAdjust="spacingAndGlyphs" stroke="#303030" stroke-width="0.3">17:45</text>
<text x="1173.3" y="1300.8" font-size="12" fill="#1a1a1a" text-anchor="middle" font-weight="bold" textLength="32" lengthAdjust="spacingAndGlyphs">18:00</text>
<text x="1234.7" y="1300.8" font-size="12" fill="#303030" text-anchor="middle" font-weight="normal" textLength="29.3" lengthAdjust="spacingAndGlyphs" stroke="#303030" stroke-width="0.3">18:15</text>
<text x="1292" y="1300.8" font-size="12" fill="#303030" text-anchor="middle" font-weight="normal" textLength="29.3" lengthAdjust="spacingAndGlyphs" stroke="#303030" stroke-width="0.3">18:30</text>
<text x="1354" y="1300.8" font-size="12" fill="#303030" text-anchor="middle" font-weight="normal" textLength="29.3" lengthAdjust="spacingAndGlyphs" stroke="#303030" stroke-width="0.3">18:45</text>
<text x="1416" y="1300.8" font-size="12" fill="#1a1a1a" text-anchor="middle" font-weight="bold" textLength="32" lengthAdjust="spacingAndGlyphs">19:00</text>
<text x="1526.7" y="1300.8" font-size="12" fill="#303030" text-anchor="middle" font-weight="normal" textLength="29.3" lengthAdjust="spacingAndGlyphs" stroke="#303030" stroke-width="0.3">19:30</text>
<text x="1584.3" y="1300.8" font-size="12" fill="#303030" text-anchor="middle" font-weight="normal" textLength="29.3" lengthAdjust="spacingAndGlyphs" stroke="#303030" stroke-width="0.3">19:45</text>
<text x="1642" y="1300.8" font-size="12" fill="#1a1a1a" text-anchor="middle" font-weight="bold" textLength="32" lengthAdjust="spacingAndGlyphs">20:00</text>
<g fill="none" stroke="#1a1a1a" stroke-width="1.2"><path d="M1680.4 1297.5 L1683.9 1291.4 L1690.9 1291.4 L1694.4 1297.5 L1690.9 1303.6 L1683.9 1303.6 Z"/><circle cx="1687.4" cy="1297.5" r="2"/></g>
<rect x="1616" y="1228" width="23.5" height="22" rx="3" fill="#fff" stroke="#f0f0f0" stroke-width="1"/>
<path d="M1623.3 1233.3 L1627.3 1239 L1623.3 1244.7 M1628 1233.3 L1632.6 1239 L1628 1244.7" fill="none" stroke="#c4c4c4" stroke-width="1.1"/>
<g fill="#111"><path d="M14 1254 H25.8 V1268.8 H19.9 V1259.9 H14 Z"/><circle cx="30.9" cy="1257" r="2.95"/><path d="M37.4 1254 H44 L38 1268.8 H31 Z"/></g>
<text x="11.5" y="16.8" font-size="15.5" fill="#141414" text-anchor="start" font-weight="normal" textLength="164.3" lengthAdjust="spacingAndGlyphs" stroke="#141414" stroke-width="0.3">DAX Futures · 1 · EUREX</text>
<path d="M200 2 H211 V20 H200 A9 9 0 0 1 200 2 Z" fill="#e0f1ef"/><path d="M211 2 H222 A9 9 0 0 1 222 20 H211 Z" fill="#fff3e1"/>
<circle cx="202" cy="11" r="4.05" fill="#3f9984"/>
<text x="216.6" y="15.9" font-size="13" fill="#e8832b" text-anchor="start" font-weight="bold" textLength="7.6" lengthAdjust="spacingAndGlyphs">D</text>
<text x="11.3" y="39.8" font-size="12" fill="#b4b4b4" text-anchor="start" font-weight="normal" textLength="23.5" lengthAdjust="spacingAndGlyphs" stroke="#b4b4b4" stroke-width="0.25">EMA</text>
<g transform="translate(53.0,35.0)" fill="none" stroke="#1e1e1e" stroke-width="1.2" stroke-linecap="round"><path d="M-7.6 0 C-6 -3.5 -3.2 -5.55 0 -5.55 S6 -3.5 7.6 0 C6 3.5 3.2 5.55 0 5.55 S-6 3.5 -7.6 0Z"/><circle cx="0" cy="0" r="2.7"/><path d="M-6 5.9 L5.9 -5.9" stroke="#fff" stroke-width="3.2" stroke-linecap="butt"/><path d="M-6 5.9 L5.9 -5.9"/></g>
<text x="11.3" y="63.8" font-size="12" fill="#b4b4b4" text-anchor="start" font-weight="normal" textLength="117.7" lengthAdjust="spacingAndGlyphs" stroke="#b4b4b4" stroke-width="0.25">TPI Intensity Drawer</text>
<g transform="translate(147.2,59.0)" fill="none" stroke="#1e1e1e" stroke-width="1.2" stroke-linecap="round"><path d="M-7.6 0 C-6 -3.5 -3.2 -5.55 0 -5.55 S6 -3.5 7.6 0 C6 3.5 3.2 5.55 0 5.55 S-6 3.5 -7.6 0Z"/><circle cx="0" cy="0" r="2.7"/><path d="M-6 5.9 L5.9 -5.9" stroke="#fff" stroke-width="3.2" stroke-linecap="butt"/><path d="M-6 5.9 L5.9 -5.9"/></g>
<text x="11.3" y="87.8" font-size="12" fill="#b4b4b4" text-anchor="start" font-weight="normal" textLength="153.4" lengthAdjust="spacingAndGlyphs" stroke="#b4b4b4" stroke-width="0.25">TPI Target Zone - Modified</text>
<g transform="translate(182.89999999999998,83.0)" fill="none" stroke="#1e1e1e" stroke-width="1.2" stroke-linecap="round"><path d="M-7.6 0 C-6 -3.5 -3.2 -5.55 0 -5.55 S6 -3.5 7.6 0 C6 3.5 3.2 5.55 0 5.55 S-6 3.5 -7.6 0Z"/><circle cx="0" cy="0" r="2.7"/><path d="M-6 5.9 L5.9 -5.9" stroke="#fff" stroke-width="3.2" stroke-linecap="butt"/><path d="M-6 5.9 L5.9 -5.9"/></g>
<text x="11.3" y="111.8" font-size="12" fill="#b4b4b4" text-anchor="start" font-weight="normal" textLength="111.2" lengthAdjust="spacingAndGlyphs" stroke="#b4b4b4" stroke-width="0.25">Candy Points - Blog</text>
<g transform="translate(140.7,107.0)" fill="none" stroke="#1e1e1e" stroke-width="1.2" stroke-linecap="round"><path d="M-7.6 0 C-6 -3.5 -3.2 -5.55 0 -5.55 S6 -3.5 7.6 0 C6 3.5 3.2 5.55 0 5.55 S-6 3.5 -7.6 0Z"/><circle cx="0" cy="0" r="2.7"/><path d="M-6 5.9 L5.9 -5.9" stroke="#fff" stroke-width="3.2" stroke-linecap="butt"/><path d="M-6 5.9 L5.9 -5.9"/></g>
<text x="11.3" y="135.8" font-size="12" fill="#b4b4b4" text-anchor="start" font-weight="normal" textLength="80.0" lengthAdjust="spacingAndGlyphs" stroke="#b4b4b4" stroke-width="0.25">Smart Mint E2</text>
<g transform="translate(109.5,131.0)" fill="none" stroke="#1e1e1e" stroke-width="1.2" stroke-linecap="round"><path d="M-7.6 0 C-6 -3.5 -3.2 -5.55 0 -5.55 S6 -3.5 7.6 0 C6 3.5 3.2 5.55 0 5.55 S-6 3.5 -7.6 0Z"/><circle cx="0" cy="0" r="2.7"/><path d="M-6 5.9 L5.9 -5.9" stroke="#fff" stroke-width="3.2" stroke-linecap="butt"/><path d="M-6 5.9 L5.9 -5.9"/></g>
<text x="11.3" y="159.8" font-size="12" fill="#b4b4b4" text-anchor="start" font-weight="normal" textLength="58.7" lengthAdjust="spacingAndGlyphs" stroke="#b4b4b4" stroke-width="0.25">SmartBlue</text>
<g transform="translate(88.2,155.0)" fill="none" stroke="#1e1e1e" stroke-width="1.2" stroke-linecap="round"><path d="M-7.6 0 C-6 -3.5 -3.2 -5.55 0 -5.55 S6 -3.5 7.6 0 C6 3.5 3.2 5.55 0 5.55 S-6 3.5 -7.6 0Z"/><circle cx="0" cy="0" r="2.7"/><path d="M-6 5.9 L5.9 -5.9" stroke="#fff" stroke-width="3.2" stroke-linecap="butt"/><path d="M-6 5.9 L5.9 -5.9"/></g>
<rect x="8.5" y="170.5" width="28" height="20" rx="3.5" fill="#fff" stroke="#dedede" stroke-width="1"/>
<path d="M18.3 182.6 L22.5 178.6 L26.7 182.6" fill="none" stroke="#1a1a1a" stroke-width="1.35"/>
<text x="879.6" y="364.8" font-size="14.4" fill="#5b8ee8" text-anchor="start" font-weight="bold" textLength="149.3" lengthAdjust="spacingAndGlyphs">Fragwürdige 1 der 3</text>
<circle cx="349.5" cy="254.5" r="7" fill="none" stroke="#e0454a" stroke-width="1.1"/>
<text x="349.5" y="258.5" font-size="11" fill="#e0454a" text-anchor="middle" font-weight="bold">1</text>
<circle cx="617.5" cy="1131.5" r="7" fill="none" stroke="#e0454a" stroke-width="1.1"/>
<text x="617.5" y="1135.5" font-size="11" fill="#e0454a" text-anchor="middle" font-weight="bold">2</text>
</svg>
</body></html>
